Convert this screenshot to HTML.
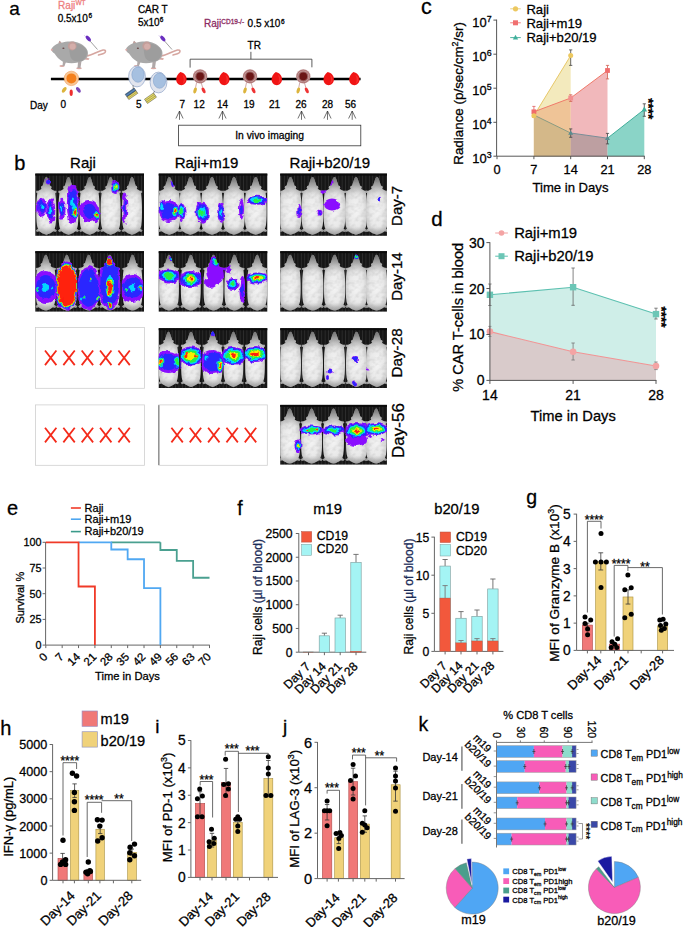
<!DOCTYPE html>
<html><head><meta charset="utf-8"><style>
html,body{margin:0;padding:0;background:#fff;}
svg{display:block;font-family:"Liberation Sans", sans-serif;}
text{fill:currentColor;stroke:currentColor;stroke-width:0.28px;}
</style></head><body>
<svg width="685" height="927" viewBox="0 0 685 927">
<defs><filter id="bl" x="-50%" y="-50%" width="200%" height="200%"><feGaussianBlur stdDeviation="0.6"/></filter><filter id="irr" x="-10%" y="-10%" width="120%" height="120%"><feTurbulence type="fractalNoise" baseFrequency="0.18" numOctaves="2" seed="7" result="n"/><feDisplacementMap in="SourceGraphic" in2="n" scale="5" xChannelSelector="R" yChannelSelector="G"/><feGaussianBlur stdDeviation="0.55"/></filter><filter id="mb" x="-20%" y="-5%" width="140%" height="110%"><feGaussianBlur in="SourceGraphic" stdDeviation="0.7" result="b"/><feTurbulence type="fractalNoise" baseFrequency="0.22" numOctaves="2" seed="11" result="n"/><feColorMatrix in="n" type="matrix" values="0 0 0 0 0.35  0 0 0 0 0.35  0 0 0 0 0.35  0.7 0 0 0 -0.3" result="ng"/><feComposite in="ng" in2="b" operator="in" result="nm"/><feMerge><feMergeNode in="b"/><feMergeNode in="nm"/></feMerge></filter><radialGradient id="mg" cx="0.5" cy="0.58" r="0.62"><stop offset="0" stop-color="#f4f4f4"/><stop offset="0.5" stop-color="#e8e8e8"/><stop offset="0.78" stop-color="#cfcfcf"/><stop offset="0.92" stop-color="#a8a8a8"/><stop offset="1" stop-color="#8a8a8a"/></radialGradient><pattern id="stripes" width="3.4" height="10" patternUnits="userSpaceOnUse"><rect width="3.4" height="10" fill="#161616"/><rect x="1.7" width="0.8" height="10" fill="#2e2e2e"/></pattern><linearGradient id="mv" x1="0" x2="0" y1="0" y2="1"><stop offset="0" stop-color="#555" stop-opacity="0.75"/><stop offset="0.2" stop-color="#666" stop-opacity="0.25"/><stop offset="0.32" stop-color="#666" stop-opacity="0"/><stop offset="0.85" stop-color="#666" stop-opacity="0"/><stop offset="1" stop-color="#555" stop-opacity="0.45"/></linearGradient><g id="mtop" filter="url(#mb)"><path d="M0,0 C0.8,0 1.4,1.2 1.9,3 C2.5,5 3.1,7 3.6,8.6 L4.8,9 L5.2,10.6 L4.6,11.4 C5.2,12.4 6.5,13.2 7.8,13.6 L9.8,13.8 L10.2,15.2 L8.9,16.2 C9.4,19.5 9.7,24 9.8,30 C9.9,38 9.8,44 9.2,48.5 C9,50 8.6,51 8.2,52 L10.4,53.6 L9.2,55.2 L7,54.4 C5,56 3,57 1.5,57.5 L0,58 L-1.5,57.5 C-3,57 -5,56 -7,54.4 L-9.2,55.2 L-10.4,53.6 L-8.2,52 C-8.6,51 -9,50 -9.2,48.5 C-9.8,44 -9.9,38 -9.8,30 C-9.7,24 -9.4,19.5 -8.9,16.2 L-10.2,15.2 L-9.8,13.8 L-7.8,13.6 C-6.5,13.2 -5.2,12.4 -4.6,11.4 L-5.2,10.6 L-4.8,9 L-3.6,8.6 C-3.1,7 -2.5,5 -1.9,3 C-1.4,1.2 -0.8,0 0,0 Z" fill="url(#mg)"/><path d="M0,0 C0.8,0 1.4,1.2 1.9,3 C2.5,5 3.1,7 3.6,8.6 L4.8,9 L5.2,10.6 L4.6,11.4 C5.2,12.4 6.5,13.2 7.8,13.6 L9.8,13.8 L10.2,15.2 L8.9,16.2 C9.4,19.5 9.7,24 9.8,30 C9.9,38 9.8,44 9.2,48.5 C9,50 8.6,51 8.2,52 L10.4,53.6 L9.2,55.2 L7,54.4 C5,56 3,57 1.5,57.5 L0,58 L-1.5,57.5 C-3,57 -5,56 -7,54.4 L-9.2,55.2 L-10.4,53.6 L-8.2,52 C-8.6,51 -9,50 -9.2,48.5 C-9.8,44 -9.9,38 -9.8,30 C-9.7,24 -9.4,19.5 -8.9,16.2 L-10.2,15.2 L-9.8,13.8 L-7.8,13.6 C-6.5,13.2 -5.2,12.4 -4.6,11.4 L-5.2,10.6 L-4.8,9 L-3.6,8.6 C-3.1,7 -2.5,5 -1.9,3 C-1.4,1.2 -0.8,0 0,0 Z" fill="url(#mv)"/></g><path id="mpath" d="M0,0 C0.8,0 1.4,1.2 1.9,3 C2.5,5 3.1,7 3.6,8.6 L4.8,9 L5.2,10.6 L4.6,11.4 C5.2,12.4 6.5,13.2 7.8,13.6 L9.8,13.8 L10.2,15.2 L8.9,16.2 C9.4,19.5 9.7,24 9.8,30 C9.9,38 9.8,44 9.2,48.5 C9,50 8.6,51 8.2,52 L10.4,53.6 L9.2,55.2 L7,54.4 C5,56 3,57 1.5,57.5 L0,58 L-1.5,57.5 C-3,57 -5,56 -7,54.4 L-9.2,55.2 L-10.4,53.6 L-8.2,52 C-8.6,51 -9,50 -9.2,48.5 C-9.8,44 -9.9,38 -9.8,30 C-9.7,24 -9.4,19.5 -8.9,16.2 L-10.2,15.2 L-9.8,13.8 L-7.8,13.6 C-6.5,13.2 -5.2,12.4 -4.6,11.4 L-5.2,10.6 L-4.8,9 L-3.6,8.6 C-3.1,7 -2.5,5 -1.9,3 C-1.4,1.2 -0.8,0 0,0 Z"/><clipPath id="mc1"><use href="#mpath" transform="translate(46.30,176.60) scale(1.096,1.015)"/><use href="#mpath" transform="translate(68.50,176.60) scale(1.096,1.015)"/><use href="#mpath" transform="translate(89.60,176.60) scale(1.096,1.015)"/><use href="#mpath" transform="translate(110.60,176.60) scale(1.096,1.015)"/><use href="#mpath" transform="translate(132.00,176.60) scale(1.096,1.015)"/></clipPath><clipPath id="mc2"><use href="#mpath" transform="translate(169.30,176.60) scale(1.203,1.015)"/><use href="#mpath" transform="translate(190.30,176.60) scale(1.203,1.015)"/><use href="#mpath" transform="translate(212.00,176.60) scale(1.203,1.015)"/><use href="#mpath" transform="translate(234.00,176.60) scale(1.203,1.015)"/><use href="#mpath" transform="translate(255.70,176.60) scale(1.203,1.015)"/></clipPath><clipPath id="mc3"><use href="#mpath" transform="translate(290.50,176.60) scale(1.203,1.015)"/><use href="#mpath" transform="translate(312.50,176.60) scale(1.203,1.015)"/><use href="#mpath" transform="translate(334.50,176.60) scale(1.203,1.015)"/><use href="#mpath" transform="translate(356.00,176.60) scale(1.203,1.015)"/><use href="#mpath" transform="translate(377.00,176.60) scale(1.203,1.015)"/></clipPath><clipPath id="mc4"><use href="#mpath" transform="translate(45.80,254.20) scale(1.093,0.983)"/><use href="#mpath" transform="translate(66.80,254.20) scale(1.093,0.983)"/><use href="#mpath" transform="translate(88.70,254.20) scale(1.093,0.983)"/><use href="#mpath" transform="translate(109.70,254.20) scale(1.093,0.983)"/><use href="#mpath" transform="translate(132.50,254.20) scale(1.093,0.983)"/></clipPath><clipPath id="mc5"><use href="#mpath" transform="translate(169.00,254.20) scale(1.093,0.983)"/><use href="#mpath" transform="translate(190.80,254.20) scale(1.093,0.983)"/><use href="#mpath" transform="translate(213.50,254.20) scale(1.093,0.983)"/><use href="#mpath" transform="translate(234.40,254.20) scale(1.093,0.983)"/><use href="#mpath" transform="translate(257.20,254.20) scale(1.093,0.983)"/></clipPath><clipPath id="mc6"><use href="#mpath" transform="translate(290.10,254.20) scale(1.166,0.983)"/><use href="#mpath" transform="translate(312.80,254.20) scale(1.166,0.983)"/><use href="#mpath" transform="translate(334.60,254.20) scale(1.166,0.983)"/><use href="#mpath" transform="translate(356.40,254.20) scale(1.166,0.983)"/><use href="#mpath" transform="translate(376.60,254.20) scale(1.166,0.983)"/></clipPath><clipPath id="mc7"><use href="#mpath" transform="translate(168.50,331.20) scale(1.081,0.973)"/><use href="#mpath" transform="translate(191.00,331.20) scale(1.081,0.973)"/><use href="#mpath" transform="translate(212.60,331.20) scale(1.081,0.973)"/><use href="#mpath" transform="translate(233.40,331.20) scale(1.081,0.973)"/><use href="#mpath" transform="translate(255.00,331.20) scale(1.081,0.973)"/></clipPath><clipPath id="mc8"><use href="#mpath" transform="translate(290.50,331.20) scale(1.153,0.973)"/><use href="#mpath" transform="translate(312.50,331.20) scale(1.153,0.973)"/><use href="#mpath" transform="translate(334.50,331.20) scale(1.153,0.973)"/><use href="#mpath" transform="translate(356.50,331.20) scale(1.153,0.973)"/><use href="#mpath" transform="translate(377.00,331.20) scale(1.153,0.973)"/></clipPath><clipPath id="mc9"><use href="#mpath" transform="translate(289.70,407.90) scale(1.151,0.971)"/><use href="#mpath" transform="translate(311.60,407.90) scale(1.151,0.971)"/><use href="#mpath" transform="translate(333.50,407.90) scale(1.151,0.971)"/><use href="#mpath" transform="translate(356.50,407.90) scale(1.151,0.971)"/><use href="#mpath" transform="translate(376.20,407.90) scale(1.151,0.971)"/></clipPath></defs>
<text x="9.20" y="14.60" font-size="19">a</text>
<text x="58.10" y="8.80" font-size="10" color="#ee7f7f">Raji</text>
<text x="75.40" y="5.40" font-size="6.5" color="#ee7f7f">WT</text>
<text x="57.70" y="21.50" font-size="10">0.5x10</text>
<text x="88.40" y="17.60" font-size="6.5">6</text>
<text x="137.90" y="13.10" font-size="10">CAR T</text>
<text x="137.90" y="25.80" font-size="10">5x10</text>
<text x="159.80" y="21.80" font-size="6.5">6</text>
<text x="204.00" y="27.20" font-size="10" color="#8c2a62">Raji</text>
<text x="221.30" y="24.20" font-size="6.5" color="#8c2a62">CD19-/-</text>
<text x="247.60" y="27.20" font-size="10">0.5 x10</text>
<text x="280.90" y="23.50" font-size="6.5">6</text>
<text x="247.60" y="49.10" font-size="10">TR</text>
<path d="M190.1,67.6 V59.2 H311.9 V67.3" fill="none" stroke="#333" stroke-width="0.8"/>
<line x1="250.90" y1="59.20" x2="250.90" y2="51.80" stroke="#333" stroke-width="0.8"/>
<g transform="translate(0.00,0.00)"><path d="M86.5,56 C92,55.5 98,51 103,50 C106.5,49.5 106,52.5 103.5,53.5 C101.5,54.3 100,54.5 98.5,55" fill="none" stroke="#d6a6a0" stroke-width="1.6" stroke-linecap="round"/><ellipse cx="62" cy="66" rx="2.6" ry="1.1" fill="#d9aaa5"/><ellipse cx="79" cy="68.3" rx="2.8" ry="1.0" fill="#d9aaa5"/><path d="M63,61 L62.5,66 L64.5,66 L66,62 Z M78,62 L77.5,68 L80.5,68 L81.5,61 Z" fill="#b0a8a8"/><path d="M85,57 L89.5,58.5 L88.5,60 L84.5,59.5 Z" fill="#d9aaa5"/><path d="M51.2,49.6 C52,47 55,44.5 58.5,43.2 L59.5,40.8 L61.5,42.8 C64,42 67,41.6 70,41.6 C76,41 82,43.5 85.5,47.5 C88.5,50.5 88.8,55 86.5,58 C85,60 83,61 81.5,61.5 L78,62.5 C74,63.5 69,63.5 65.5,62.5 L62.5,61.5 C59,59.5 56.5,56.5 54.5,53.5 C53,52.5 51.5,51.5 51.2,49.6 Z" fill="#a9a9a9"/><path d="M70,44 C77,42.5 84,45.5 86.5,50 C88,54 86,58.5 81.5,61 C77,62.5 72,61 70.5,57 C69.5,53 68.5,48 70,44 Z" fill="#9d9d9d"/><path d="M59.5,40.8 L61.5,42.8 L58.5,43.2 Z" fill="#c4a09c"/><circle cx="72.2" cy="46" r="4.4" fill="#c29e9a"/><circle cx="72.6" cy="46.4" r="3.0" fill="#d4aeaa"/><ellipse cx="63.4" cy="48.3" rx="1.1" ry="0.75" fill="#6a4848"/><circle cx="51.8" cy="49.8" r="1.0" fill="#e2aaa8"/><line x1="86.5" y1="37" x2="97.5" y2="49.5" stroke="#777" stroke-width="0.7"/><ellipse cx="88.3" cy="38.5" rx="3.4" ry="1.7" transform="rotate(48 88.3 38.5)" fill="#6a2ec0"/><line x1="84.5" y1="35.5" x2="86" y2="37" stroke="#c8b0e8" stroke-width="1"/></g>
<g transform="translate(74.50,0.00)"><path d="M86.5,56 C92,55.5 98,51 103,50 C106.5,49.5 106,52.5 103.5,53.5 C101.5,54.3 100,54.5 98.5,55" fill="none" stroke="#d6a6a0" stroke-width="1.6" stroke-linecap="round"/><ellipse cx="62" cy="66" rx="2.6" ry="1.1" fill="#d9aaa5"/><ellipse cx="79" cy="68.3" rx="2.8" ry="1.0" fill="#d9aaa5"/><path d="M63,61 L62.5,66 L64.5,66 L66,62 Z M78,62 L77.5,68 L80.5,68 L81.5,61 Z" fill="#b0a8a8"/><path d="M85,57 L89.5,58.5 L88.5,60 L84.5,59.5 Z" fill="#d9aaa5"/><path d="M51.2,49.6 C52,47 55,44.5 58.5,43.2 L59.5,40.8 L61.5,42.8 C64,42 67,41.6 70,41.6 C76,41 82,43.5 85.5,47.5 C88.5,50.5 88.8,55 86.5,58 C85,60 83,61 81.5,61.5 L78,62.5 C74,63.5 69,63.5 65.5,62.5 L62.5,61.5 C59,59.5 56.5,56.5 54.5,53.5 C53,52.5 51.5,51.5 51.2,49.6 Z" fill="#a9a9a9"/><path d="M70,44 C77,42.5 84,45.5 86.5,50 C88,54 86,58.5 81.5,61 C77,62.5 72,61 70.5,57 C69.5,53 68.5,48 70,44 Z" fill="#9d9d9d"/><path d="M59.5,40.8 L61.5,42.8 L58.5,43.2 Z" fill="#c4a09c"/><circle cx="72.2" cy="46" r="4.4" fill="#c29e9a"/><circle cx="72.6" cy="46.4" r="3.0" fill="#d4aeaa"/><ellipse cx="63.4" cy="48.3" rx="1.1" ry="0.75" fill="#6a4848"/><circle cx="51.8" cy="49.8" r="1.0" fill="#e2aaa8"/><line x1="86.5" y1="37" x2="97.5" y2="49.5" stroke="#777" stroke-width="0.7"/><ellipse cx="88.3" cy="38.5" rx="3.4" ry="1.7" transform="rotate(48 88.3 38.5)" fill="#6a2ec0"/><line x1="84.5" y1="35.5" x2="86" y2="37" stroke="#c8b0e8" stroke-width="1"/></g>
<line x1="50.90" y1="79.00" x2="360.60" y2="79.00" stroke="#000" stroke-width="2.6"/>
<circle cx="71.4" cy="78.4" r="7.2" fill="#f8c898" stroke="#f0a060" stroke-width="0.6"/>
<circle cx="71.4" cy="78.4" r="5" fill="#f4801c"/>
<ellipse cx="64.2" cy="89.8" rx="1.7" ry="3.2" transform="rotate(35 64.2 89.8)" fill="#dcb43c"/>
<ellipse cx="71.2" cy="92.8" rx="1.6" ry="3.3" fill="#ee2e2e"/>
<ellipse cx="78.4" cy="89.8" rx="1.7" ry="3.2" transform="rotate(-35 78.4 89.8)" fill="#7a48b8"/>
<ellipse cx="137.00" cy="76.50" rx="8.4" ry="10.4" fill="#e2e5ee" stroke="#8ea4c8" stroke-width="0.7"/>
<ellipse cx="138.00" cy="74.70" rx="6.2" ry="7.6" fill="#a6c0e0" stroke="#7d9cc8" stroke-width="0.5"/>
<line x1="133.00" y1="85.00" x2="133.50" y2="91.30" stroke="#555" stroke-width="0.6"/>
<g transform="translate(131.50,93.80) rotate(-35)"><rect x="-5.5" y="-3.2" width="11" height="3.2" fill="#3d6d9e" stroke="#333" stroke-width="0.4"/><rect x="-5.5" y="0" width="11" height="3.2" fill="#e8d860" stroke="#333" stroke-width="0.4"/><line x1="-5.5" y1="-1.6" x2="5.5" y2="-1.6" stroke="#9ac" stroke-width="0.4"/><line x1="-5.5" y1="1.6" x2="5.5" y2="1.6" stroke="#665" stroke-width="0.4"/></g>
<ellipse cx="158.50" cy="82.50" rx="8.4" ry="10.4" fill="#e2e5ee" stroke="#8ea4c8" stroke-width="0.7"/>
<ellipse cx="159.50" cy="80.70" rx="6.2" ry="7.6" fill="#a6c0e0" stroke="#7d9cc8" stroke-width="0.5"/>
<line x1="154.50" y1="91.00" x2="152.50" y2="95.70" stroke="#555" stroke-width="0.6"/>
<g transform="translate(150.50,98.20) rotate(-35)"><rect x="-5.5" y="-2.6" width="11" height="5.2" fill="#e8dc60" stroke="#333" stroke-width="0.4"/><line x1="-5.5" y1="-0.9" x2="5.5" y2="-0.9" stroke="#555" stroke-width="0.4"/><line x1="-5.5" y1="0.9" x2="5.5" y2="0.9" stroke="#555" stroke-width="0.4"/></g>
<path transform="translate(181.40,78.80) scale(1.0)" d="M-1,-6.8 C3,-6 5.2,-3 5.2,0.5 C5.2,4.2 2.5,6.4 0,6.4 C-3,6.4 -5.2,4.2 -5.2,0.8 C-5.2,-2.5 -3.5,-5.2 -1,-6.8 Z" fill="#f01414"/>
<path transform="translate(181.40,78.80) scale(1.0)" d="M1,-4 C3,-3 4,-1 4,1 C4,3 2.5,4.5 1,5 C2.5,3 3,0 1,-4 Z" fill="#ff4040" opacity="0.6"/>
<path transform="translate(224.30,78.80) scale(1.0)" d="M-1,-6.8 C3,-6 5.2,-3 5.2,0.5 C5.2,4.2 2.5,6.4 0,6.4 C-3,6.4 -5.2,4.2 -5.2,0.8 C-5.2,-2.5 -3.5,-5.2 -1,-6.8 Z" fill="#f01414"/>
<path transform="translate(224.30,78.80) scale(1.0)" d="M1,-4 C3,-3 4,-1 4,1 C4,3 2.5,4.5 1,5 C2.5,3 3,0 1,-4 Z" fill="#ff4040" opacity="0.6"/>
<path transform="translate(276.80,78.80) scale(1.0)" d="M-1,-6.8 C3,-6 5.2,-3 5.2,0.5 C5.2,4.2 2.5,6.4 0,6.4 C-3,6.4 -5.2,4.2 -5.2,0.8 C-5.2,-2.5 -3.5,-5.2 -1,-6.8 Z" fill="#f01414"/>
<path transform="translate(276.80,78.80) scale(1.0)" d="M1,-4 C3,-3 4,-1 4,1 C4,3 2.5,4.5 1,5 C2.5,3 3,0 1,-4 Z" fill="#ff4040" opacity="0.6"/>
<path transform="translate(328.70,78.80) scale(1.0)" d="M-1,-6.8 C3,-6 5.2,-3 5.2,0.5 C5.2,4.2 2.5,6.4 0,6.4 C-3,6.4 -5.2,4.2 -5.2,0.8 C-5.2,-2.5 -3.5,-5.2 -1,-6.8 Z" fill="#f01414"/>
<path transform="translate(328.70,78.80) scale(1.0)" d="M1,-4 C3,-3 4,-1 4,1 C4,3 2.5,4.5 1,5 C2.5,3 3,0 1,-4 Z" fill="#ff4040" opacity="0.6"/>
<path transform="translate(354.40,78.80) scale(1.0)" d="M-1,-6.8 C3,-6 5.2,-3 5.2,0.5 C5.2,4.2 2.5,6.4 0,6.4 C-3,6.4 -5.2,4.2 -5.2,0.8 C-5.2,-2.5 -3.5,-5.2 -1,-6.8 Z" fill="#f01414"/>
<path transform="translate(354.40,78.80) scale(1.0)" d="M1,-4 C3,-3 4,-1 4,1 C4,3 2.5,4.5 1,5 C2.5,3 3,0 1,-4 Z" fill="#ff4040" opacity="0.6"/>
<circle cx="200.10" cy="76.40" r="7.2" fill="#c8a0a0"/>
<circle cx="200.10" cy="76.40" r="6.3" fill="none" stroke="#9c5a5a" stroke-width="0.6"/>
<circle cx="200.10" cy="76.40" r="5" fill="#9a6060"/>
<circle cx="200.10" cy="76.40" r="3.8" fill="#6a1616"/>
<ellipse cx="195.10" cy="90.40" rx="1.6" ry="3.1" transform="rotate(15 195.10 90.40)" fill="#dcb43c"/>
<ellipse cx="203.60" cy="90.40" rx="1.6" ry="3.1" transform="rotate(-25 203.60 90.40)" fill="#ef3434"/>
<line x1="196.60" y1="82.40" x2="195.60" y2="87.40" stroke="#b07070" stroke-width="0.6"/>
<line x1="201.10" y1="82.40" x2="202.60" y2="87.40" stroke="#b07070" stroke-width="0.6"/>
<circle cx="250.00" cy="76.40" r="7.2" fill="#c8a0a0"/>
<circle cx="250.00" cy="76.40" r="6.3" fill="none" stroke="#9c5a5a" stroke-width="0.6"/>
<circle cx="250.00" cy="76.40" r="5" fill="#9a6060"/>
<circle cx="250.00" cy="76.40" r="3.8" fill="#6a1616"/>
<ellipse cx="245.00" cy="90.40" rx="1.6" ry="3.1" transform="rotate(15 245.00 90.40)" fill="#dcb43c"/>
<ellipse cx="253.50" cy="90.40" rx="1.6" ry="3.1" transform="rotate(-25 253.50 90.40)" fill="#ef3434"/>
<line x1="246.50" y1="82.40" x2="245.50" y2="87.40" stroke="#b07070" stroke-width="0.6"/>
<line x1="251.00" y1="82.40" x2="252.50" y2="87.40" stroke="#b07070" stroke-width="0.6"/>
<circle cx="303.30" cy="76.40" r="7.2" fill="#c8a0a0"/>
<circle cx="303.30" cy="76.40" r="6.3" fill="none" stroke="#9c5a5a" stroke-width="0.6"/>
<circle cx="303.30" cy="76.40" r="5" fill="#9a6060"/>
<circle cx="303.30" cy="76.40" r="3.8" fill="#6a1616"/>
<ellipse cx="298.30" cy="90.40" rx="1.6" ry="3.1" transform="rotate(15 298.30 90.40)" fill="#dcb43c"/>
<ellipse cx="306.80" cy="90.40" rx="1.6" ry="3.1" transform="rotate(-25 306.80 90.40)" fill="#ef3434"/>
<line x1="299.80" y1="82.40" x2="298.80" y2="87.40" stroke="#b07070" stroke-width="0.6"/>
<line x1="304.30" y1="82.40" x2="305.80" y2="87.40" stroke="#b07070" stroke-width="0.6"/>
<text x="30.00" y="108.60" font-size="10">Day</text>
<text x="60.40" y="107.60" font-size="10">0</text>
<text x="136.00" y="107.60" font-size="10">5</text>
<text x="179.40" y="107.60" font-size="10">7</text>
<text x="193.60" y="107.60" font-size="10">12</text>
<text x="217.00" y="107.60" font-size="10">14</text>
<text x="243.50" y="107.60" font-size="10">19</text>
<text x="269.00" y="107.60" font-size="10">21</text>
<text x="295.40" y="107.60" font-size="10">26</text>
<text x="322.00" y="107.60" font-size="10">28</text>
<text x="345.00" y="107.60" font-size="10">56</text>
<path d="M175.90,118.5 L179.50,111 L183.10,118.5 M179.50,111 V119.8" fill="none" stroke="#333" stroke-width="0.7"/>
<path d="M218.90,118.5 L222.50,111 L226.10,118.5 M222.50,111 V119.8" fill="none" stroke="#333" stroke-width="0.7"/>
<path d="M297.90,118.5 L301.50,111 L305.10,118.5 M301.50,111 V119.8" fill="none" stroke="#333" stroke-width="0.7"/>
<path d="M323.90,118.5 L327.50,111 L331.10,118.5 M327.50,111 V119.8" fill="none" stroke="#333" stroke-width="0.7"/>
<path d="M348.60,118.5 L352.20,111 L355.80,118.5 M352.20,111 V119.8" fill="none" stroke="#333" stroke-width="0.7"/>
<rect x="178.60" y="125.20" width="182.20" height="20.60" fill="none" stroke="#333" stroke-width="0.8"/>
<text x="269.60" y="139.20" font-size="10.3" text-anchor="middle">In vivo imaging</text>
<text x="14.30" y="170.20" font-size="20">b</text>
<text x="70.10" y="168.30" font-size="15">Raji</text>
<text x="174.70" y="168.30" font-size="15">Raji+m19</text>
<text x="289.60" y="168.30" font-size="15">Raji+b20/19</text>
<text x="402.40" y="205.90" font-size="15.0" text-anchor="middle" transform="rotate(-90 402.40 205.90)">Day-7</text>
<text x="402.40" y="276.60" font-size="15.0" text-anchor="middle" transform="rotate(-90 402.40 276.60)">Day-14</text>
<text x="402.50" y="352.90" font-size="15.2" text-anchor="middle" transform="rotate(-90 402.50 352.90)">Day-28</text>
<text x="404.20" y="430.50" font-size="17.0" text-anchor="middle" transform="rotate(-90 404.20 430.50)">Day-56</text>
<rect x="35.30" y="173.60" width="108.70" height="62.20" fill="url(#stripes)"/>
<rect x="35.30" y="173.60" width="108.70" height="2" fill="#0a0a0a"/>
<svg x="35.30" y="173.60" width="108.70" height="62.20" viewBox="35.30 173.60 108.70 62.20" overflow="hidden">
<use href="#mtop" transform="translate(46.30,177.10) scale(1.015,0.995)"/>
<use href="#mtop" transform="translate(68.50,177.10) scale(1.015,0.995)"/>
<use href="#mtop" transform="translate(89.60,177.10) scale(1.015,0.995)"/>
<use href="#mtop" transform="translate(110.60,177.10) scale(1.015,0.995)"/>
<use href="#mtop" transform="translate(132.00,177.10) scale(1.015,0.995)"/>
<g filter="url(#irr)">
<ellipse cx="41.80" cy="207.20" rx="5.00" ry="9.50" fill="#8a10ff"/>
<ellipse cx="50.80" cy="210.40" rx="4.50" ry="12.00" fill="#8a10ff"/>
<ellipse cx="48.30" cy="181.40" rx="2.50" ry="3.00" fill="#8a10ff"/>
<ellipse cx="61.80" cy="208.80" rx="3.80" ry="10.00" fill="#8a10ff"/>
<ellipse cx="72.80" cy="204.00" rx="6.00" ry="20.00" fill="#8a10ff"/>
<ellipse cx="75.00" cy="212.00" rx="3.50" ry="8.00" fill="#8a10ff"/>
<ellipse cx="89.50" cy="211.00" rx="9.80" ry="11.00" fill="#8a10ff"/>
<ellipse cx="96.40" cy="215.40" rx="3.50" ry="7.00" fill="#8a10ff"/>
<ellipse cx="115.40" cy="187.00" rx="4.20" ry="7.00" fill="#8a10ff"/>
<ellipse cx="124.80" cy="208.00" rx="2.50" ry="16.00" fill="#8a10ff"/>
<ellipse cx="41.80" cy="207.20" rx="3.50" ry="6.65" fill="#2a28ff"/>
<ellipse cx="50.80" cy="210.40" rx="3.15" ry="8.40" fill="#2a28ff"/>
<ellipse cx="48.30" cy="181.40" rx="2.00" ry="2.40" fill="#2a28ff"/>
<ellipse cx="61.80" cy="208.80" rx="2.66" ry="7.00" fill="#2a28ff"/>
<ellipse cx="72.80" cy="204.00" rx="4.50" ry="15.00" fill="#2a28ff"/>
<ellipse cx="75.00" cy="212.00" rx="2.98" ry="6.80" fill="#2a28ff"/>
<ellipse cx="89.50" cy="211.00" rx="6.37" ry="7.15" fill="#2a28ff"/>
<ellipse cx="96.40" cy="215.40" rx="2.80" ry="5.60" fill="#2a28ff"/>
<ellipse cx="115.40" cy="187.00" rx="3.36" ry="5.60" fill="#2a28ff"/>
<ellipse cx="124.80" cy="208.00" rx="1.25" ry="8.00" fill="#2a28ff"/>
<ellipse cx="41.80" cy="207.20" rx="1.50" ry="2.85" fill="#00d8ff"/>
<ellipse cx="50.80" cy="210.40" rx="1.57" ry="4.20" fill="#00d8ff"/>
<ellipse cx="61.80" cy="208.80" rx="1.14" ry="3.00" fill="#00d8ff"/>
<ellipse cx="72.80" cy="204.00" rx="1.68" ry="5.60" fill="#00d8ff"/>
<ellipse cx="75.00" cy="212.00" rx="2.45" ry="5.60" fill="#00d8ff"/>
<ellipse cx="96.40" cy="215.40" rx="2.10" ry="4.20" fill="#00d8ff"/>
<ellipse cx="115.40" cy="187.00" rx="2.31" ry="3.85" fill="#00d8ff"/>
<ellipse cx="75.00" cy="212.00" rx="1.93" ry="4.40" fill="#28f040"/>
<ellipse cx="96.40" cy="215.40" rx="1.57" ry="3.15" fill="#28f040"/>
<ellipse cx="115.40" cy="187.00" rx="1.68" ry="2.80" fill="#28f040"/>
<ellipse cx="75.00" cy="212.00" rx="1.40" ry="3.20" fill="#f8f000"/>
<ellipse cx="96.40" cy="215.40" rx="1.05" ry="2.10" fill="#f8f000"/>
<ellipse cx="115.40" cy="187.00" rx="1.05" ry="1.75" fill="#f8f000"/>
<ellipse cx="75.00" cy="212.00" rx="1.05" ry="2.40" fill="#ff2010"/>
<ellipse cx="96.40" cy="215.40" rx="0.70" ry="1.40" fill="#ff2010"/>
</g>
</svg>
<rect x="158.70" y="173.60" width="108.60" height="62.20" fill="url(#stripes)"/>
<rect x="158.70" y="173.60" width="108.60" height="2" fill="#0a0a0a"/>
<svg x="158.70" y="173.60" width="108.60" height="62.20" viewBox="158.70 173.60 108.60 62.20" overflow="hidden">
<use href="#mtop" transform="translate(169.30,177.10) scale(1.114,0.995)"/>
<use href="#mtop" transform="translate(190.30,177.10) scale(1.114,0.995)"/>
<use href="#mtop" transform="translate(212.00,177.10) scale(1.114,0.995)"/>
<use href="#mtop" transform="translate(234.00,177.10) scale(1.114,0.995)"/>
<use href="#mtop" transform="translate(255.70,177.10) scale(1.114,0.995)"/>
<g clip-path="url(#mc2)">
<g filter="url(#irr)">
<ellipse cx="168.50" cy="211.00" rx="9.50" ry="11.00" fill="#8a10ff"/>
<ellipse cx="161.70" cy="207.00" rx="3.00" ry="6.00" fill="#8a10ff"/>
<ellipse cx="175.50" cy="211.00" rx="3.50" ry="7.50" fill="#8a10ff"/>
<ellipse cx="173.50" cy="183.00" rx="2.50" ry="4.00" fill="#8a10ff"/>
<ellipse cx="181.50" cy="212.00" rx="4.00" ry="9.00" fill="#8a10ff"/>
<ellipse cx="200.00" cy="212.00" rx="4.50" ry="10.00" fill="#8a10ff"/>
<ellipse cx="203.00" cy="212.80" rx="6.00" ry="11.00" fill="#8a10ff"/>
<ellipse cx="221.30" cy="212.80" rx="3.00" ry="10.00" fill="#8a10ff"/>
<ellipse cx="241.50" cy="209.50" rx="2.50" ry="10.00" fill="#8a10ff"/>
<ellipse cx="257.40" cy="200.20" rx="11.00" ry="4.50" fill="#8a10ff"/>
<ellipse cx="168.50" cy="211.00" rx="7.12" ry="8.25" fill="#2a28ff"/>
<ellipse cx="161.70" cy="207.00" rx="2.40" ry="4.80" fill="#2a28ff"/>
<ellipse cx="175.50" cy="211.00" rx="2.98" ry="6.38" fill="#2a28ff"/>
<ellipse cx="173.50" cy="183.00" rx="2.00" ry="3.20" fill="#2a28ff"/>
<ellipse cx="181.50" cy="212.00" rx="3.20" ry="7.20" fill="#2a28ff"/>
<ellipse cx="200.00" cy="212.00" rx="3.60" ry="8.00" fill="#2a28ff"/>
<ellipse cx="203.00" cy="212.80" rx="4.80" ry="8.80" fill="#2a28ff"/>
<ellipse cx="221.30" cy="212.80" rx="2.25" ry="7.50" fill="#2a28ff"/>
<ellipse cx="241.50" cy="209.50" rx="1.25" ry="5.00" fill="#2a28ff"/>
<ellipse cx="257.40" cy="200.20" rx="9.35" ry="3.82" fill="#2a28ff"/>
<ellipse cx="161.70" cy="207.00" rx="1.50" ry="3.00" fill="#00d8ff"/>
<ellipse cx="175.50" cy="211.00" rx="2.45" ry="5.25" fill="#00d8ff"/>
<ellipse cx="181.50" cy="212.00" rx="2.20" ry="4.95" fill="#00d8ff"/>
<ellipse cx="200.00" cy="212.00" rx="2.48" ry="5.50" fill="#00d8ff"/>
<ellipse cx="203.00" cy="212.80" rx="3.00" ry="5.50" fill="#00d8ff"/>
<ellipse cx="221.30" cy="212.80" rx="1.05" ry="3.50" fill="#00d8ff"/>
<ellipse cx="257.40" cy="200.20" rx="6.60" ry="2.70" fill="#00d8ff"/>
<ellipse cx="175.50" cy="211.00" rx="1.93" ry="4.12" fill="#28f040"/>
<ellipse cx="181.50" cy="212.00" rx="1.40" ry="3.15" fill="#28f040"/>
<ellipse cx="200.00" cy="212.00" rx="1.57" ry="3.50" fill="#28f040"/>
<ellipse cx="203.00" cy="212.80" rx="1.80" ry="3.30" fill="#28f040"/>
<ellipse cx="257.40" cy="200.20" rx="4.40" ry="1.80" fill="#28f040"/>
<ellipse cx="175.50" cy="211.00" rx="1.40" ry="3.00" fill="#f8f000"/>
<ellipse cx="175.50" cy="211.00" rx="0.98" ry="2.10" fill="#ff2010"/>
</g>
</g>
</svg>
<rect x="280.20" y="173.60" width="106.80" height="62.20" fill="url(#stripes)"/>
<rect x="280.20" y="173.60" width="106.80" height="2" fill="#0a0a0a"/>
<svg x="280.20" y="173.60" width="106.80" height="62.20" viewBox="280.20 173.60 106.80 62.20" overflow="hidden">
<use href="#mtop" transform="translate(290.50,177.10) scale(1.114,0.995)"/>
<use href="#mtop" transform="translate(312.50,177.10) scale(1.114,0.995)"/>
<use href="#mtop" transform="translate(334.50,177.10) scale(1.114,0.995)"/>
<use href="#mtop" transform="translate(356.00,177.10) scale(1.114,0.995)"/>
<use href="#mtop" transform="translate(377.00,177.10) scale(1.114,0.995)"/>
<g clip-path="url(#mc3)">
<g filter="url(#irr)">
<ellipse cx="283.00" cy="184.80" rx="1.50" ry="2.00" fill="#8a10ff"/>
<ellipse cx="299.30" cy="211.10" rx="2.00" ry="7.00" fill="#8a10ff"/>
<ellipse cx="319.50" cy="212.80" rx="3.00" ry="3.00" fill="#8a10ff"/>
<ellipse cx="332.10" cy="204.40" rx="8.00" ry="6.00" fill="#8a10ff"/>
<ellipse cx="330.40" cy="182.60" rx="3.00" ry="3.00" fill="#8a10ff"/>
<ellipse cx="323.70" cy="191.80" rx="2.00" ry="3.00" fill="#8a10ff"/>
<ellipse cx="342.10" cy="187.60" rx="1.20" ry="1.50" fill="#8a10ff"/>
<ellipse cx="379.10" cy="198.50" rx="1.80" ry="2.00" fill="#8a10ff"/>
<ellipse cx="299.30" cy="211.10" rx="1.00" ry="3.50" fill="#2a28ff"/>
<ellipse cx="319.50" cy="212.80" rx="1.80" ry="1.80" fill="#2a28ff"/>
<ellipse cx="379.10" cy="198.50" rx="1.44" ry="1.60" fill="#2a28ff"/>
</g>
</g>
</svg>
<rect x="35.30" y="251.20" width="108.70" height="60.40" fill="url(#stripes)"/>
<rect x="35.30" y="251.20" width="108.70" height="2" fill="#0a0a0a"/>
<svg x="35.30" y="251.20" width="108.70" height="60.40" viewBox="35.30 251.20 108.70 60.40" overflow="hidden">
<use href="#mtop" transform="translate(45.80,254.70) scale(1.012,0.964)"/>
<use href="#mtop" transform="translate(66.80,254.70) scale(1.012,0.964)"/>
<use href="#mtop" transform="translate(88.70,254.70) scale(1.012,0.964)"/>
<use href="#mtop" transform="translate(109.70,254.70) scale(1.012,0.964)"/>
<use href="#mtop" transform="translate(132.50,254.70) scale(1.012,0.964)"/>
<g clip-path="url(#mc4)">
<g filter="url(#irr)">
<ellipse cx="45.80" cy="287.00" rx="13.00" ry="16.00" fill="#8a10ff"/>
<ellipse cx="37.50" cy="290.00" rx="2.50" ry="4.00" fill="#8a10ff"/>
<ellipse cx="53.00" cy="288.00" rx="2.00" ry="3.00" fill="#8a10ff"/>
<ellipse cx="66.80" cy="286.00" rx="11.00" ry="24.50" fill="#8a10ff"/>
<ellipse cx="63.00" cy="300.00" rx="7.00" ry="8.00" fill="#8a10ff"/>
<ellipse cx="88.70" cy="288.00" rx="12.00" ry="22.00" fill="#8a10ff"/>
<ellipse cx="90.40" cy="280.00" rx="3.00" ry="3.00" fill="#8a10ff"/>
<ellipse cx="97.40" cy="297.50" rx="3.00" ry="3.50" fill="#8a10ff"/>
<ellipse cx="84.00" cy="298.00" rx="3.00" ry="3.00" fill="#8a10ff"/>
<ellipse cx="81.00" cy="298.00" rx="2.00" ry="3.00" fill="#8a10ff"/>
<ellipse cx="109.70" cy="283.00" rx="11.00" ry="27.00" fill="#8a10ff"/>
<ellipse cx="109.70" cy="262.00" rx="4.50" ry="4.50" fill="#8a10ff"/>
<ellipse cx="109.70" cy="288.00" rx="5.00" ry="12.00" fill="#8a10ff"/>
<ellipse cx="109.70" cy="305.00" rx="3.50" ry="3.50" fill="#8a10ff"/>
<ellipse cx="132.50" cy="288.00" rx="13.00" ry="14.00" fill="#8a10ff"/>
<ellipse cx="140.00" cy="288.00" rx="3.00" ry="6.00" fill="#8a10ff"/>
<ellipse cx="126.00" cy="290.00" rx="2.50" ry="4.00" fill="#8a10ff"/>
<ellipse cx="45.80" cy="287.00" rx="9.75" ry="12.00" fill="#2a28ff"/>
<ellipse cx="37.50" cy="290.00" rx="2.00" ry="3.20" fill="#2a28ff"/>
<ellipse cx="53.00" cy="288.00" rx="1.60" ry="2.40" fill="#2a28ff"/>
<ellipse cx="66.80" cy="286.00" rx="10.45" ry="23.27" fill="#2a28ff"/>
<ellipse cx="63.00" cy="300.00" rx="5.60" ry="6.40" fill="#2a28ff"/>
<ellipse cx="88.70" cy="288.00" rx="10.20" ry="18.70" fill="#2a28ff"/>
<ellipse cx="90.40" cy="280.00" rx="2.40" ry="2.40" fill="#2a28ff"/>
<ellipse cx="97.40" cy="297.50" rx="2.40" ry="2.80" fill="#2a28ff"/>
<ellipse cx="84.00" cy="298.00" rx="2.40" ry="2.40" fill="#2a28ff"/>
<ellipse cx="81.00" cy="298.00" rx="1.60" ry="2.40" fill="#2a28ff"/>
<ellipse cx="109.70" cy="283.00" rx="9.35" ry="22.95" fill="#2a28ff"/>
<ellipse cx="109.70" cy="262.00" rx="4.05" ry="4.05" fill="#2a28ff"/>
<ellipse cx="109.70" cy="288.00" rx="4.50" ry="10.80" fill="#2a28ff"/>
<ellipse cx="109.70" cy="305.00" rx="3.15" ry="3.15" fill="#2a28ff"/>
<ellipse cx="132.50" cy="288.00" rx="9.75" ry="10.50" fill="#2a28ff"/>
<ellipse cx="140.00" cy="288.00" rx="2.40" ry="4.80" fill="#2a28ff"/>
<ellipse cx="126.00" cy="290.00" rx="2.00" ry="3.20" fill="#2a28ff"/>
<ellipse cx="45.80" cy="287.00" rx="3.25" ry="4.00" fill="#00d8ff"/>
<ellipse cx="37.50" cy="290.00" rx="1.25" ry="2.00" fill="#00d8ff"/>
<ellipse cx="53.00" cy="288.00" rx="1.00" ry="1.50" fill="#00d8ff"/>
<ellipse cx="66.80" cy="286.00" rx="10.12" ry="22.54" fill="#00d8ff"/>
<ellipse cx="63.00" cy="300.00" rx="3.50" ry="4.00" fill="#00d8ff"/>
<ellipse cx="90.40" cy="280.00" rx="1.50" ry="1.50" fill="#00d8ff"/>
<ellipse cx="97.40" cy="297.50" rx="1.50" ry="1.75" fill="#00d8ff"/>
<ellipse cx="84.00" cy="298.00" rx="1.50" ry="1.50" fill="#00d8ff"/>
<ellipse cx="81.00" cy="298.00" rx="1.00" ry="1.50" fill="#00d8ff"/>
<ellipse cx="109.70" cy="283.00" rx="3.30" ry="8.10" fill="#00d8ff"/>
<ellipse cx="109.70" cy="262.00" rx="3.60" ry="3.60" fill="#00d8ff"/>
<ellipse cx="109.70" cy="288.00" rx="4.00" ry="9.60" fill="#00d8ff"/>
<ellipse cx="109.70" cy="305.00" rx="2.80" ry="2.80" fill="#00d8ff"/>
<ellipse cx="132.50" cy="288.00" rx="3.90" ry="4.20" fill="#00d8ff"/>
<ellipse cx="140.00" cy="288.00" rx="1.50" ry="3.00" fill="#00d8ff"/>
<ellipse cx="126.00" cy="290.00" rx="1.25" ry="2.00" fill="#00d8ff"/>
<ellipse cx="37.50" cy="290.00" rx="0.95" ry="1.52" fill="#28f040"/>
<ellipse cx="66.80" cy="286.00" rx="9.90" ry="22.05" fill="#28f040"/>
<ellipse cx="63.00" cy="300.00" rx="2.66" ry="3.04" fill="#28f040"/>
<ellipse cx="90.40" cy="280.00" rx="1.14" ry="1.14" fill="#28f040"/>
<ellipse cx="97.40" cy="297.50" rx="1.14" ry="1.33" fill="#28f040"/>
<ellipse cx="84.00" cy="298.00" rx="1.14" ry="1.14" fill="#28f040"/>
<ellipse cx="109.70" cy="262.00" rx="3.38" ry="3.38" fill="#28f040"/>
<ellipse cx="109.70" cy="288.00" rx="3.50" ry="8.40" fill="#28f040"/>
<ellipse cx="109.70" cy="305.00" rx="2.45" ry="2.45" fill="#28f040"/>
<ellipse cx="140.00" cy="288.00" rx="1.14" ry="2.28" fill="#28f040"/>
<ellipse cx="126.00" cy="290.00" rx="0.95" ry="1.52" fill="#28f040"/>
<ellipse cx="66.80" cy="286.00" rx="9.68" ry="21.56" fill="#f8f000"/>
<ellipse cx="63.00" cy="300.00" rx="1.89" ry="2.16" fill="#f8f000"/>
<ellipse cx="90.40" cy="280.00" rx="0.81" ry="0.81" fill="#f8f000"/>
<ellipse cx="97.40" cy="297.50" rx="0.81" ry="0.95" fill="#f8f000"/>
<ellipse cx="109.70" cy="262.00" rx="3.15" ry="3.15" fill="#f8f000"/>
<ellipse cx="109.70" cy="288.00" rx="3.00" ry="7.20" fill="#f8f000"/>
<ellipse cx="109.70" cy="305.00" rx="2.10" ry="2.10" fill="#f8f000"/>
<ellipse cx="140.00" cy="288.00" rx="0.81" ry="1.62" fill="#f8f000"/>
<ellipse cx="66.80" cy="286.00" rx="9.35" ry="20.82" fill="#ff2010"/>
<ellipse cx="63.00" cy="300.00" rx="1.26" ry="1.44" fill="#ff2010"/>
<ellipse cx="90.40" cy="280.00" rx="0.54" ry="0.54" fill="#ff2010"/>
<ellipse cx="97.40" cy="297.50" rx="0.54" ry="0.63" fill="#ff2010"/>
<ellipse cx="109.70" cy="262.00" rx="2.93" ry="2.93" fill="#ff2010"/>
<ellipse cx="109.70" cy="288.00" rx="2.50" ry="6.00" fill="#ff2010"/>
<ellipse cx="109.70" cy="305.00" rx="1.75" ry="1.75" fill="#ff2010"/>
<ellipse cx="140.00" cy="288.00" rx="0.54" ry="1.08" fill="#ff2010"/>
</g>
</g>
</svg>
<rect x="158.70" y="251.20" width="108.60" height="60.40" fill="url(#stripes)"/>
<rect x="158.70" y="251.20" width="108.60" height="2" fill="#0a0a0a"/>
<svg x="158.70" y="251.20" width="108.60" height="60.40" viewBox="158.70 251.20 108.60 60.40" overflow="hidden">
<use href="#mtop" transform="translate(169.00,254.70) scale(1.012,0.964)"/>
<use href="#mtop" transform="translate(190.80,254.70) scale(1.012,0.964)"/>
<use href="#mtop" transform="translate(213.50,254.70) scale(1.012,0.964)"/>
<use href="#mtop" transform="translate(234.40,254.70) scale(1.012,0.964)"/>
<use href="#mtop" transform="translate(257.20,254.70) scale(1.012,0.964)"/>
<g clip-path="url(#mc5)">
<g filter="url(#irr)">
<ellipse cx="169.00" cy="276.00" rx="12.00" ry="7.50" fill="#8a10ff"/>
<ellipse cx="171.80" cy="259.00" rx="3.00" ry="2.50" fill="#8a10ff"/>
<ellipse cx="190.80" cy="279.00" rx="12.00" ry="8.00" fill="#8a10ff"/>
<ellipse cx="191.00" cy="279.00" rx="3.00" ry="3.00" fill="#8a10ff"/>
<ellipse cx="216.00" cy="270.00" rx="9.00" ry="14.00" fill="#8a10ff"/>
<ellipse cx="216.40" cy="261.80" rx="5.00" ry="6.00" fill="#8a10ff"/>
<ellipse cx="218.50" cy="258.00" rx="2.00" ry="2.00" fill="#8a10ff"/>
<ellipse cx="210.00" cy="283.00" rx="6.00" ry="5.00" fill="#8a10ff"/>
<ellipse cx="232.50" cy="284.00" rx="6.00" ry="6.00" fill="#8a10ff"/>
<ellipse cx="242.50" cy="290.00" rx="3.00" ry="14.00" fill="#8a10ff"/>
<ellipse cx="228.00" cy="268.00" rx="2.50" ry="5.00" fill="#8a10ff"/>
<ellipse cx="257.20" cy="278.00" rx="12.00" ry="5.50" fill="#8a10ff"/>
<ellipse cx="169.00" cy="276.00" rx="9.60" ry="6.00" fill="#2a28ff"/>
<ellipse cx="171.80" cy="259.00" rx="2.40" ry="2.00" fill="#2a28ff"/>
<ellipse cx="190.80" cy="279.00" rx="9.84" ry="6.56" fill="#2a28ff"/>
<ellipse cx="191.00" cy="279.00" rx="2.70" ry="2.70" fill="#2a28ff"/>
<ellipse cx="216.40" cy="261.80" rx="4.00" ry="4.80" fill="#2a28ff"/>
<ellipse cx="218.50" cy="258.00" rx="1.80" ry="1.80" fill="#2a28ff"/>
<ellipse cx="232.50" cy="284.00" rx="4.80" ry="4.80" fill="#2a28ff"/>
<ellipse cx="242.50" cy="290.00" rx="1.50" ry="7.00" fill="#2a28ff"/>
<ellipse cx="257.20" cy="278.00" rx="10.20" ry="4.67" fill="#2a28ff"/>
<ellipse cx="169.00" cy="276.00" rx="7.20" ry="4.50" fill="#00d8ff"/>
<ellipse cx="171.80" cy="259.00" rx="1.50" ry="1.25" fill="#00d8ff"/>
<ellipse cx="190.80" cy="279.00" rx="7.80" ry="5.20" fill="#00d8ff"/>
<ellipse cx="191.00" cy="279.00" rx="2.40" ry="2.40" fill="#00d8ff"/>
<ellipse cx="216.40" cy="261.80" rx="3.00" ry="3.60" fill="#00d8ff"/>
<ellipse cx="218.50" cy="258.00" rx="1.60" ry="1.60" fill="#00d8ff"/>
<ellipse cx="232.50" cy="284.00" rx="3.30" ry="3.30" fill="#00d8ff"/>
<ellipse cx="257.20" cy="278.00" rx="8.40" ry="3.85" fill="#00d8ff"/>
<ellipse cx="169.00" cy="276.00" rx="5.04" ry="3.15" fill="#28f040"/>
<ellipse cx="190.80" cy="279.00" rx="6.00" ry="4.00" fill="#28f040"/>
<ellipse cx="191.00" cy="279.00" rx="2.10" ry="2.10" fill="#28f040"/>
<ellipse cx="216.40" cy="261.80" rx="2.00" ry="2.40" fill="#28f040"/>
<ellipse cx="218.50" cy="258.00" rx="1.40" ry="1.40" fill="#28f040"/>
<ellipse cx="232.50" cy="284.00" rx="2.10" ry="2.10" fill="#28f040"/>
<ellipse cx="257.20" cy="278.00" rx="6.60" ry="3.03" fill="#28f040"/>
<ellipse cx="190.80" cy="279.00" rx="3.84" ry="2.56" fill="#f8f000"/>
<ellipse cx="191.00" cy="279.00" rx="1.80" ry="1.80" fill="#f8f000"/>
<ellipse cx="218.50" cy="258.00" rx="1.20" ry="1.20" fill="#f8f000"/>
<ellipse cx="257.20" cy="278.00" rx="4.80" ry="2.20" fill="#f8f000"/>
<ellipse cx="191.00" cy="279.00" rx="1.50" ry="1.50" fill="#ff2010"/>
<ellipse cx="218.50" cy="258.00" rx="1.00" ry="1.00" fill="#ff2010"/>
<ellipse cx="257.20" cy="278.00" rx="3.00" ry="1.38" fill="#ff2010"/>
</g>
</g>
</svg>
<rect x="280.20" y="251.20" width="106.80" height="60.40" fill="url(#stripes)"/>
<rect x="280.20" y="251.20" width="106.80" height="2" fill="#0a0a0a"/>
<svg x="280.20" y="251.20" width="106.80" height="60.40" viewBox="280.20 251.20 106.80 60.40" overflow="hidden">
<use href="#mtop" transform="translate(290.10,254.70) scale(1.079,0.964)"/>
<use href="#mtop" transform="translate(312.80,254.70) scale(1.079,0.964)"/>
<use href="#mtop" transform="translate(334.60,254.70) scale(1.079,0.964)"/>
<use href="#mtop" transform="translate(356.40,254.70) scale(1.079,0.964)"/>
<use href="#mtop" transform="translate(376.60,254.70) scale(1.079,0.964)"/>
<g clip-path="url(#mc6)">
<g filter="url(#irr)">
<ellipse cx="356.40" cy="256.00" rx="3.50" ry="2.50" fill="#8a10ff"/>
<ellipse cx="356.40" cy="256.00" rx="2.80" ry="2.00" fill="#2a28ff"/>
<ellipse cx="356.40" cy="256.00" rx="1.75" ry="1.25" fill="#00d8ff"/>
<ellipse cx="356.40" cy="256.00" rx="1.33" ry="0.95" fill="#28f040"/>
</g>
</g>
</svg>
<rect x="35.40" y="327.40" width="109.10" height="60.90" fill="#fff" stroke="#cfcfcf" stroke-width="0.8"/>
<path d="M45.00,350.55 L56.40,365.15 M56.40,350.55 L45.00,365.15" fill="none" stroke="#f42a1a" stroke-width="1.8"/>
<path d="M63.35,350.55 L74.75,365.15 M74.75,350.55 L63.35,365.15" fill="none" stroke="#f42a1a" stroke-width="1.8"/>
<path d="M81.70,350.55 L93.10,365.15 M93.10,350.55 L81.70,365.15" fill="none" stroke="#f42a1a" stroke-width="1.8"/>
<path d="M100.05,350.55 L111.45,365.15 M111.45,350.55 L100.05,365.15" fill="none" stroke="#f42a1a" stroke-width="1.8"/>
<path d="M118.40,350.55 L129.80,365.15 M129.80,350.55 L118.40,365.15" fill="none" stroke="#f42a1a" stroke-width="1.8"/>
<rect x="158.70" y="328.20" width="108.60" height="59.80" fill="url(#stripes)"/>
<rect x="158.70" y="328.20" width="108.60" height="2" fill="#0a0a0a"/>
<svg x="158.70" y="328.20" width="108.60" height="59.80" viewBox="158.70 328.20 108.60 59.80" overflow="hidden">
<use href="#mtop" transform="translate(168.50,331.70) scale(1.001,0.953)"/>
<use href="#mtop" transform="translate(191.00,331.70) scale(1.001,0.953)"/>
<use href="#mtop" transform="translate(212.60,331.70) scale(1.001,0.953)"/>
<use href="#mtop" transform="translate(233.40,331.70) scale(1.001,0.953)"/>
<use href="#mtop" transform="translate(255.00,331.70) scale(1.001,0.953)"/>
<g clip-path="url(#mc7)">
<g filter="url(#irr)">
<ellipse cx="168.50" cy="362.00" rx="13.00" ry="11.00" fill="#8a10ff"/>
<ellipse cx="160.50" cy="362.00" rx="4.00" ry="8.00" fill="#8a10ff"/>
<ellipse cx="177.00" cy="362.00" rx="3.50" ry="7.00" fill="#8a10ff"/>
<ellipse cx="191.00" cy="356.00" rx="12.50" ry="9.50" fill="#8a10ff"/>
<ellipse cx="185.80" cy="355.50" rx="3.00" ry="3.00" fill="#8a10ff"/>
<ellipse cx="196.00" cy="355.50" rx="3.50" ry="3.00" fill="#8a10ff"/>
<ellipse cx="212.60" cy="362.00" rx="12.00" ry="12.00" fill="#8a10ff"/>
<ellipse cx="220.00" cy="365.00" rx="4.00" ry="8.00" fill="#8a10ff"/>
<ellipse cx="206.00" cy="358.00" rx="3.00" ry="5.00" fill="#8a10ff"/>
<ellipse cx="213.40" cy="333.30" rx="2.00" ry="3.00" fill="#8a10ff"/>
<ellipse cx="233.40" cy="355.80" rx="12.50" ry="9.00" fill="#8a10ff"/>
<ellipse cx="255.00" cy="354.10" rx="12.50" ry="8.00" fill="#8a10ff"/>
<ellipse cx="168.50" cy="362.00" rx="9.75" ry="8.25" fill="#2a28ff"/>
<ellipse cx="160.50" cy="362.00" rx="3.40" ry="6.80" fill="#2a28ff"/>
<ellipse cx="177.00" cy="362.00" rx="2.98" ry="5.95" fill="#2a28ff"/>
<ellipse cx="191.00" cy="356.00" rx="11.00" ry="8.36" fill="#2a28ff"/>
<ellipse cx="185.80" cy="355.50" rx="2.70" ry="2.70" fill="#2a28ff"/>
<ellipse cx="196.00" cy="355.50" rx="3.15" ry="2.70" fill="#2a28ff"/>
<ellipse cx="212.60" cy="362.00" rx="9.60" ry="9.60" fill="#2a28ff"/>
<ellipse cx="220.00" cy="365.00" rx="3.40" ry="6.80" fill="#2a28ff"/>
<ellipse cx="206.00" cy="358.00" rx="2.40" ry="4.00" fill="#2a28ff"/>
<ellipse cx="213.40" cy="333.30" rx="1.60" ry="2.40" fill="#2a28ff"/>
<ellipse cx="233.40" cy="355.80" rx="11.00" ry="7.92" fill="#2a28ff"/>
<ellipse cx="255.00" cy="354.10" rx="11.00" ry="7.04" fill="#2a28ff"/>
<ellipse cx="160.50" cy="362.00" rx="2.80" ry="5.60" fill="#00d8ff"/>
<ellipse cx="177.00" cy="362.00" rx="2.27" ry="4.55" fill="#00d8ff"/>
<ellipse cx="191.00" cy="356.00" rx="9.38" ry="7.12" fill="#00d8ff"/>
<ellipse cx="185.80" cy="355.50" rx="2.40" ry="2.40" fill="#00d8ff"/>
<ellipse cx="196.00" cy="355.50" rx="2.80" ry="2.40" fill="#00d8ff"/>
<ellipse cx="220.00" cy="365.00" rx="2.80" ry="5.60" fill="#00d8ff"/>
<ellipse cx="206.00" cy="358.00" rx="1.50" ry="2.50" fill="#00d8ff"/>
<ellipse cx="233.40" cy="355.80" rx="9.38" ry="6.75" fill="#00d8ff"/>
<ellipse cx="255.00" cy="354.10" rx="9.50" ry="6.08" fill="#00d8ff"/>
<ellipse cx="160.50" cy="362.00" rx="2.20" ry="4.40" fill="#28f040"/>
<ellipse cx="177.00" cy="362.00" rx="1.57" ry="3.15" fill="#28f040"/>
<ellipse cx="191.00" cy="356.00" rx="7.50" ry="5.70" fill="#28f040"/>
<ellipse cx="185.80" cy="355.50" rx="2.10" ry="2.10" fill="#28f040"/>
<ellipse cx="196.00" cy="355.50" rx="2.45" ry="2.10" fill="#28f040"/>
<ellipse cx="220.00" cy="365.00" rx="2.20" ry="4.40" fill="#28f040"/>
<ellipse cx="233.40" cy="355.80" rx="7.25" ry="5.22" fill="#28f040"/>
<ellipse cx="255.00" cy="354.10" rx="7.50" ry="4.80" fill="#28f040"/>
<ellipse cx="160.50" cy="362.00" rx="1.60" ry="3.20" fill="#f8f000"/>
<ellipse cx="191.00" cy="356.00" rx="4.75" ry="3.61" fill="#f8f000"/>
<ellipse cx="185.80" cy="355.50" rx="1.80" ry="1.80" fill="#f8f000"/>
<ellipse cx="196.00" cy="355.50" rx="2.10" ry="1.80" fill="#f8f000"/>
<ellipse cx="220.00" cy="365.00" rx="1.60" ry="3.20" fill="#f8f000"/>
<ellipse cx="233.40" cy="355.80" rx="4.50" ry="3.24" fill="#f8f000"/>
<ellipse cx="255.00" cy="354.10" rx="5.50" ry="3.52" fill="#f8f000"/>
<ellipse cx="160.50" cy="362.00" rx="1.12" ry="2.24" fill="#ff2010"/>
<ellipse cx="185.80" cy="355.50" rx="1.50" ry="1.50" fill="#ff2010"/>
<ellipse cx="196.00" cy="355.50" rx="1.75" ry="1.50" fill="#ff2010"/>
<ellipse cx="220.00" cy="365.00" rx="1.00" ry="2.00" fill="#ff2010"/>
<ellipse cx="233.40" cy="355.80" rx="2.50" ry="1.80" fill="#ff2010"/>
<ellipse cx="255.00" cy="354.10" rx="3.75" ry="2.40" fill="#ff2010"/>
</g>
</g>
</svg>
<rect x="280.20" y="328.20" width="106.80" height="59.80" fill="url(#stripes)"/>
<rect x="280.20" y="328.20" width="106.80" height="2" fill="#0a0a0a"/>
<svg x="280.20" y="328.20" width="106.80" height="59.80" viewBox="280.20 328.20 106.80 59.80" overflow="hidden">
<use href="#mtop" transform="translate(290.50,331.70) scale(1.068,0.953)"/>
<use href="#mtop" transform="translate(312.50,331.70) scale(1.068,0.953)"/>
<use href="#mtop" transform="translate(334.50,331.70) scale(1.068,0.953)"/>
<use href="#mtop" transform="translate(356.50,331.70) scale(1.068,0.953)"/>
<use href="#mtop" transform="translate(377.00,331.70) scale(1.068,0.953)"/>
<g clip-path="url(#mc8)">
<g filter="url(#irr)">
<ellipse cx="330.00" cy="371.50" rx="2.50" ry="3.00" fill="#8a10ff"/>
<ellipse cx="328.00" cy="378.00" rx="2.00" ry="2.00" fill="#8a10ff"/>
<ellipse cx="355.70" cy="359.50" rx="3.00" ry="2.50" fill="#8a10ff"/>
<ellipse cx="354.00" cy="383.50" rx="2.00" ry="2.00" fill="#8a10ff"/>
<ellipse cx="368.00" cy="369.00" rx="2.00" ry="1.50" fill="#8a10ff"/>
<ellipse cx="330.00" cy="371.50" rx="2.00" ry="2.40" fill="#2a28ff"/>
<ellipse cx="328.00" cy="378.00" rx="1.60" ry="1.60" fill="#2a28ff"/>
<ellipse cx="355.70" cy="359.50" rx="2.40" ry="2.00" fill="#2a28ff"/>
<ellipse cx="354.00" cy="383.50" rx="1.60" ry="1.60" fill="#2a28ff"/>
</g>
</g>
</svg>
<rect x="35.40" y="404.90" width="109.10" height="60.40" fill="#fff" stroke="#cfcfcf" stroke-width="0.8"/>
<path d="M45.00,427.80 L56.40,442.40 M56.40,427.80 L45.00,442.40" fill="none" stroke="#f42a1a" stroke-width="1.8"/>
<path d="M63.35,427.80 L74.75,442.40 M74.75,427.80 L63.35,442.40" fill="none" stroke="#f42a1a" stroke-width="1.8"/>
<path d="M81.70,427.80 L93.10,442.40 M93.10,427.80 L81.70,442.40" fill="none" stroke="#f42a1a" stroke-width="1.8"/>
<path d="M100.05,427.80 L111.45,442.40 M111.45,427.80 L100.05,442.40" fill="none" stroke="#f42a1a" stroke-width="1.8"/>
<path d="M118.40,427.80 L129.80,442.40 M129.80,427.80 L118.40,442.40" fill="none" stroke="#f42a1a" stroke-width="1.8"/>
<rect x="158.70" y="404.90" width="108.60" height="60.40" fill="#fff" stroke="#cfcfcf" stroke-width="0.8"/>
<path d="M171.40,427.80 L182.80,442.40 M182.80,427.80 L171.40,442.40" fill="none" stroke="#f42a1a" stroke-width="1.8"/>
<path d="M189.75,427.80 L201.15,442.40 M201.15,427.80 L189.75,442.40" fill="none" stroke="#f42a1a" stroke-width="1.8"/>
<path d="M208.10,427.80 L219.50,442.40 M219.50,427.80 L208.10,442.40" fill="none" stroke="#f42a1a" stroke-width="1.8"/>
<path d="M226.45,427.80 L237.85,442.40 M237.85,427.80 L226.45,442.40" fill="none" stroke="#f42a1a" stroke-width="1.8"/>
<path d="M244.80,427.80 L256.20,442.40 M256.20,427.80 L244.80,442.40" fill="none" stroke="#f42a1a" stroke-width="1.8"/>
<line x1="158.90" y1="405.20" x2="158.90" y2="465.00" stroke="#666" stroke-width="1.0"/>
<rect x="280.20" y="404.90" width="106.80" height="59.70" fill="url(#stripes)"/>
<rect x="280.20" y="404.90" width="106.80" height="2" fill="#0a0a0a"/>
<svg x="280.20" y="404.90" width="106.80" height="59.70" viewBox="280.20 404.90 106.80 59.70" overflow="hidden">
<use href="#mtop" transform="translate(289.70,408.40) scale(1.066,0.952)"/>
<use href="#mtop" transform="translate(311.60,408.40) scale(1.066,0.952)"/>
<use href="#mtop" transform="translate(333.50,408.40) scale(1.066,0.952)"/>
<use href="#mtop" transform="translate(356.50,408.40) scale(1.066,0.952)"/>
<use href="#mtop" transform="translate(376.20,408.40) scale(1.066,0.952)"/>
<g clip-path="url(#mc9)">
<g filter="url(#irr)">
<ellipse cx="298.00" cy="445.40" rx="3.50" ry="7.00" fill="#8a10ff"/>
<ellipse cx="311.60" cy="430.00" rx="12.00" ry="4.50" fill="#8a10ff"/>
<ellipse cx="307.50" cy="430.00" rx="2.00" ry="2.00" fill="#8a10ff"/>
<ellipse cx="315.50" cy="430.00" rx="2.00" ry="2.00" fill="#8a10ff"/>
<ellipse cx="333.50" cy="430.00" rx="12.00" ry="4.50" fill="#8a10ff"/>
<ellipse cx="356.50" cy="431.00" rx="12.50" ry="8.00" fill="#8a10ff"/>
<ellipse cx="356.50" cy="440.00" rx="9.00" ry="6.00" fill="#8a10ff"/>
<ellipse cx="349.00" cy="441.00" rx="3.00" ry="4.00" fill="#8a10ff"/>
<ellipse cx="364.00" cy="440.00" rx="3.00" ry="4.00" fill="#8a10ff"/>
<ellipse cx="376.20" cy="429.00" rx="12.50" ry="6.00" fill="#8a10ff"/>
<ellipse cx="370.00" cy="436.00" rx="2.00" ry="2.00" fill="#8a10ff"/>
<ellipse cx="382.00" cy="440.00" rx="1.50" ry="2.00" fill="#8a10ff"/>
<ellipse cx="298.00" cy="445.40" rx="2.80" ry="5.60" fill="#2a28ff"/>
<ellipse cx="311.60" cy="430.00" rx="10.20" ry="3.82" fill="#2a28ff"/>
<ellipse cx="307.50" cy="430.00" rx="1.80" ry="1.80" fill="#2a28ff"/>
<ellipse cx="315.50" cy="430.00" rx="1.80" ry="1.80" fill="#2a28ff"/>
<ellipse cx="333.50" cy="430.00" rx="10.20" ry="3.82" fill="#2a28ff"/>
<ellipse cx="356.50" cy="431.00" rx="10.62" ry="6.80" fill="#2a28ff"/>
<ellipse cx="376.20" cy="429.00" rx="11.00" ry="5.28" fill="#2a28ff"/>
<ellipse cx="298.00" cy="445.40" rx="1.75" ry="3.50" fill="#00d8ff"/>
<ellipse cx="311.60" cy="430.00" rx="8.40" ry="3.15" fill="#00d8ff"/>
<ellipse cx="307.50" cy="430.00" rx="1.60" ry="1.60" fill="#00d8ff"/>
<ellipse cx="315.50" cy="430.00" rx="1.60" ry="1.60" fill="#00d8ff"/>
<ellipse cx="333.50" cy="430.00" rx="7.20" ry="2.70" fill="#00d8ff"/>
<ellipse cx="356.50" cy="431.00" rx="8.75" ry="5.60" fill="#00d8ff"/>
<ellipse cx="376.20" cy="429.00" rx="9.00" ry="4.32" fill="#00d8ff"/>
<ellipse cx="298.00" cy="445.40" rx="1.33" ry="2.66" fill="#28f040"/>
<ellipse cx="311.60" cy="430.00" rx="6.00" ry="2.25" fill="#28f040"/>
<ellipse cx="307.50" cy="430.00" rx="1.40" ry="1.40" fill="#28f040"/>
<ellipse cx="315.50" cy="430.00" rx="1.40" ry="1.40" fill="#28f040"/>
<ellipse cx="333.50" cy="430.00" rx="4.20" ry="1.57" fill="#28f040"/>
<ellipse cx="356.50" cy="431.00" rx="6.88" ry="4.40" fill="#28f040"/>
<ellipse cx="376.20" cy="429.00" rx="6.88" ry="3.30" fill="#28f040"/>
<ellipse cx="298.00" cy="445.40" rx="0.95" ry="1.89" fill="#f8f000"/>
<ellipse cx="307.50" cy="430.00" rx="1.20" ry="1.20" fill="#f8f000"/>
<ellipse cx="315.50" cy="430.00" rx="1.20" ry="1.20" fill="#f8f000"/>
<ellipse cx="356.50" cy="431.00" rx="4.38" ry="2.80" fill="#f8f000"/>
<ellipse cx="376.20" cy="429.00" rx="4.75" ry="2.28" fill="#f8f000"/>
<ellipse cx="307.50" cy="430.00" rx="1.00" ry="1.00" fill="#ff2010"/>
<ellipse cx="315.50" cy="430.00" rx="1.00" ry="1.00" fill="#ff2010"/>
<ellipse cx="356.50" cy="431.00" rx="2.50" ry="1.60" fill="#ff2010"/>
<ellipse cx="376.20" cy="429.00" rx="2.75" ry="1.32" fill="#ff2010"/>
</g>
</g>
</svg>
<text x="421.00" y="14.00" font-size="21.5">c</text>
<path d="M533.90,115.70 L570.70,55.60 L570.70,156.20 L533.90,156.20 Z" fill="#f3eabd"/>
<path d="M533.90,111.80 L570.70,98.00 L570.70,156.20 L533.90,156.20 Z" fill="#efc497"/>
<path d="M570.70,98.00 L607.50,70.50 L607.50,156.20 L570.70,156.20 Z" fill="#f1b8bb"/>
<path d="M533.90,115.00 L570.70,133.00 L570.70,156.20 L533.90,156.20 Z" fill="#d4b889"/>
<path d="M570.70,133.00 L607.50,138.20 L607.50,156.20 L570.70,156.20 Z" fill="#bd9fa1"/>
<path d="M607.50,138.20 L644.30,109.40 L644.30,156.20 L607.50,156.20 Z" fill="#8ad4c7"/>
<path d="M533.9,115.7 L570.7,55.6" fill="none" stroke="#e8c868" stroke-width="1.0"/>
<path d="M533.9,111.8 L570.7,98.0 L607.5,70.5" fill="none" stroke="#f07a6a" stroke-width="1.0"/>
<path d="M533.9,115.0 L570.7,133.0" fill="none" stroke="#8a9c82" stroke-width="1.0"/>
<path d="M570.7,133.0 L607.5,138.2" fill="none" stroke="#7a8e98" stroke-width="1.0"/>
<path d="M607.5,138.2 L644.3,109.4" fill="none" stroke="#3fae9a" stroke-width="1.0"/>
<line x1="570.70" y1="49.90" x2="570.70" y2="65.40" stroke="#444" stroke-width="0.8"/>
<line x1="569.10" y1="49.90" x2="572.30" y2="49.90" stroke="#444" stroke-width="0.8"/>
<line x1="569.10" y1="65.40" x2="572.30" y2="65.40" stroke="#444" stroke-width="0.8"/>
<line x1="533.90" y1="106.40" x2="533.90" y2="117.50" stroke="#e06060" stroke-width="0.8"/>
<line x1="532.30" y1="106.40" x2="535.50" y2="106.40" stroke="#e06060" stroke-width="0.8"/>
<line x1="532.30" y1="117.50" x2="535.50" y2="117.50" stroke="#e06060" stroke-width="0.8"/>
<line x1="570.70" y1="94.80" x2="570.70" y2="101.40" stroke="#d06050" stroke-width="0.8"/>
<line x1="569.10" y1="94.80" x2="572.30" y2="94.80" stroke="#d06050" stroke-width="0.8"/>
<line x1="569.10" y1="101.40" x2="572.30" y2="101.40" stroke="#d06050" stroke-width="0.8"/>
<line x1="607.50" y1="65.40" x2="607.50" y2="78.90" stroke="#d06050" stroke-width="0.8"/>
<line x1="605.90" y1="65.40" x2="609.10" y2="65.40" stroke="#d06050" stroke-width="0.8"/>
<line x1="605.90" y1="78.90" x2="609.10" y2="78.90" stroke="#d06050" stroke-width="0.8"/>
<line x1="570.70" y1="128.90" x2="570.70" y2="137.30" stroke="#444" stroke-width="0.8"/>
<line x1="569.10" y1="128.90" x2="572.30" y2="128.90" stroke="#444" stroke-width="0.8"/>
<line x1="569.10" y1="137.30" x2="572.30" y2="137.30" stroke="#444" stroke-width="0.8"/>
<line x1="607.50" y1="133.40" x2="607.50" y2="143.90" stroke="#444" stroke-width="0.8"/>
<line x1="605.90" y1="133.40" x2="609.10" y2="133.40" stroke="#444" stroke-width="0.8"/>
<line x1="605.90" y1="143.90" x2="609.10" y2="143.90" stroke="#444" stroke-width="0.8"/>
<line x1="644.30" y1="103.80" x2="644.30" y2="116.30" stroke="#444" stroke-width="0.8"/>
<line x1="642.70" y1="103.80" x2="645.90" y2="103.80" stroke="#444" stroke-width="0.8"/>
<line x1="642.70" y1="116.30" x2="645.90" y2="116.30" stroke="#444" stroke-width="0.8"/>
<rect x="531.50" y="109.40" width="4.80" height="4.80" fill="#f06c6c"/>
<rect x="568.30" y="95.60" width="4.80" height="4.80" fill="#f29090"/>
<rect x="605.10" y="68.10" width="4.80" height="4.80" fill="#f06c6c"/>
<circle cx="533.90" cy="115.70" r="2.50" fill="#ecc860"/>
<circle cx="570.70" cy="55.60" r="2.50" fill="#ecc860"/>
<path d="M570.70,130.40 L573.17,134.82 L568.23,134.82 Z" fill="#5a8c90"/>
<path d="M607.50,135.60 L609.97,140.02 L605.03,140.02 Z" fill="#5a8c90"/>
<path d="M644.30,106.50 L647.05,111.43 L641.54,111.43 Z" fill="#3fb09c"/>
<line x1="496.60" y1="19.60" x2="496.60" y2="156.20" stroke="#444" stroke-width="0.9"/>
<line x1="496.60" y1="156.20" x2="644.80" y2="156.20" stroke="#444" stroke-width="0.9"/>
<line x1="493.40" y1="20.10" x2="496.60" y2="20.10" stroke="#444" stroke-width="0.9"/>
<text x="486.60" y="26.50" font-size="12.9" text-anchor="end">10</text>
<text x="486.80" y="21.70" font-size="8.8">7</text>
<line x1="493.40" y1="54.20" x2="496.60" y2="54.20" stroke="#444" stroke-width="0.9"/>
<text x="486.60" y="60.60" font-size="12.9" text-anchor="end">10</text>
<text x="486.80" y="55.80" font-size="8.8">6</text>
<line x1="493.40" y1="88.20" x2="496.60" y2="88.20" stroke="#444" stroke-width="0.9"/>
<text x="486.60" y="94.60" font-size="12.9" text-anchor="end">10</text>
<text x="486.80" y="89.80" font-size="8.8">5</text>
<line x1="493.40" y1="122.30" x2="496.60" y2="122.30" stroke="#444" stroke-width="0.9"/>
<text x="486.60" y="128.70" font-size="12.9" text-anchor="end">10</text>
<text x="486.80" y="123.90" font-size="8.8">4</text>
<line x1="493.40" y1="156.20" x2="496.60" y2="156.20" stroke="#444" stroke-width="0.9"/>
<text x="486.60" y="162.60" font-size="12.9" text-anchor="end">10</text>
<text x="486.80" y="157.80" font-size="8.8">3</text>
<line x1="497.00" y1="156.20" x2="497.00" y2="159.20" stroke="#444" stroke-width="0.9"/>
<text x="497.00" y="173.60" font-size="12.8" text-anchor="middle">0</text>
<line x1="533.90" y1="156.20" x2="533.90" y2="159.20" stroke="#444" stroke-width="0.9"/>
<text x="533.90" y="173.60" font-size="12.8" text-anchor="middle">7</text>
<line x1="570.70" y1="156.20" x2="570.70" y2="159.20" stroke="#444" stroke-width="0.9"/>
<text x="570.70" y="173.60" font-size="12.8" text-anchor="middle">14</text>
<line x1="607.50" y1="156.20" x2="607.50" y2="159.20" stroke="#444" stroke-width="0.9"/>
<text x="607.50" y="173.60" font-size="12.8" text-anchor="middle">21</text>
<line x1="644.30" y1="156.20" x2="644.30" y2="159.20" stroke="#444" stroke-width="0.9"/>
<text x="644.30" y="173.60" font-size="12.8" text-anchor="middle">28</text>
<text x="570.50" y="192.20" font-size="13.1" text-anchor="middle">Time in Days</text>
<text x="462.6" y="93.4" font-size="13.4" text-anchor="middle" transform="rotate(-90 462.6 93.4)">Radiance (p/sec/cm<tspan font-size="9" dy="-5">2</tspan><tspan dy="5">/sr)</tspan></text>
<line x1="510.20" y1="8.80" x2="520.80" y2="8.80" stroke="#ecd080" stroke-width="1.0"/>
<circle cx="515.50" cy="8.80" r="2.60" fill="#ecc860"/>
<text x="526.40" y="13.70" font-size="13.1">Raji</text>
<line x1="510.20" y1="22.80" x2="520.80" y2="22.80" stroke="#f08080" stroke-width="1.0"/>
<rect x="513.00" y="20.30" width="5.00" height="5.00" fill="#f07070"/>
<text x="526.40" y="28.00" font-size="13.1">Raji+m19</text>
<line x1="510.20" y1="37.60" x2="520.80" y2="37.60" stroke="#4fb4a2" stroke-width="1.0"/>
<path d="M515.50,34.80 L518.16,39.56 L512.84,39.56 Z" fill="#3fb09c"/>
<text x="526.40" y="42.20" font-size="13.1">Raji+b20/19</text>
<text x="644.30" y="108.80" font-size="13.5" text-anchor="middle" transform="rotate(90 644.30 108.80)" style="stroke-width:0.6px">****</text>
<text x="431.20" y="226.20" font-size="20.5">d</text>
<path d="M489.9,294.8 L573.1,287.2 L656.0,314.1 L656.0,366.0 L573.1,351.8 L489.9,331.6 Z" fill="#cfeee8"/>
<path d="M489.9,331.6 L573.1,351.8 L656.0,366.0 L656,380.4 L489.9,380.4 Z" fill="#d9cbcb"/>
<path d="M489.9,294.8 L573.1,287.2 L656.0,314.1" fill="none" stroke="#5cc0b0" stroke-width="1.1"/>
<path d="M489.9,331.6 L573.1,351.8 L656.0,366.0" fill="none" stroke="#f09494" stroke-width="1.1"/>
<line x1="573.10" y1="268.00" x2="573.10" y2="305.30" stroke="#666" stroke-width="0.8"/>
<line x1="571.40" y1="268.00" x2="574.80" y2="268.00" stroke="#666" stroke-width="0.8"/>
<line x1="571.40" y1="305.30" x2="574.80" y2="305.30" stroke="#666" stroke-width="0.8"/>
<line x1="656.00" y1="308.20" x2="656.00" y2="319.00" stroke="#666" stroke-width="0.8"/>
<line x1="654.30" y1="308.20" x2="657.70" y2="308.20" stroke="#666" stroke-width="0.8"/>
<line x1="654.30" y1="319.00" x2="657.70" y2="319.00" stroke="#666" stroke-width="0.8"/>
<line x1="573.10" y1="343.00" x2="573.10" y2="360.00" stroke="#777" stroke-width="0.8"/>
<line x1="571.40" y1="343.00" x2="574.80" y2="343.00" stroke="#777" stroke-width="0.8"/>
<line x1="571.40" y1="360.00" x2="574.80" y2="360.00" stroke="#777" stroke-width="0.8"/>
<line x1="656.00" y1="362.00" x2="656.00" y2="369.60" stroke="#777" stroke-width="0.8"/>
<line x1="654.30" y1="362.00" x2="657.70" y2="362.00" stroke="#777" stroke-width="0.8"/>
<line x1="654.30" y1="369.60" x2="657.70" y2="369.60" stroke="#777" stroke-width="0.8"/>
<line x1="489.90" y1="284.00" x2="489.90" y2="305.50" stroke="#777" stroke-width="0.8"/>
<line x1="488.20" y1="284.00" x2="491.60" y2="284.00" stroke="#777" stroke-width="0.8"/>
<line x1="488.20" y1="305.50" x2="491.60" y2="305.50" stroke="#777" stroke-width="0.8"/>
<line x1="489.90" y1="326.40" x2="489.90" y2="336.50" stroke="#999" stroke-width="0.8"/>
<line x1="488.20" y1="326.40" x2="491.60" y2="326.40" stroke="#999" stroke-width="0.8"/>
<line x1="488.20" y1="336.50" x2="491.60" y2="336.50" stroke="#999" stroke-width="0.8"/>
<rect x="486.70" y="291.60" width="6.40" height="6.40" fill="#6cc6b6"/>
<rect x="569.90" y="284.00" width="6.40" height="6.40" fill="#6cc6b6"/>
<rect x="652.80" y="310.90" width="6.40" height="6.40" fill="#6cc6b6"/>
<circle cx="489.90" cy="331.60" r="3.30" fill="#f4a4a4"/>
<circle cx="573.10" cy="351.80" r="3.30" fill="#f4a4a4"/>
<circle cx="656.00" cy="366.00" r="3.30" fill="#f4a4a4"/>
<line x1="489.90" y1="242.20" x2="489.90" y2="380.40" stroke="#444" stroke-width="0.9"/>
<line x1="489.90" y1="380.40" x2="656.50" y2="380.40" stroke="#444" stroke-width="0.9"/>
<line x1="486.40" y1="380.40" x2="489.90" y2="380.40" stroke="#444" stroke-width="0.9"/>
<text x="484.60" y="385.40" font-size="14.0" text-anchor="end">0</text>
<line x1="486.40" y1="334.47" x2="489.90" y2="334.47" stroke="#444" stroke-width="0.9"/>
<text x="484.60" y="339.47" font-size="14.0" text-anchor="end">10</text>
<line x1="486.40" y1="288.53" x2="489.90" y2="288.53" stroke="#444" stroke-width="0.9"/>
<text x="484.60" y="293.53" font-size="14.0" text-anchor="end">20</text>
<line x1="486.40" y1="242.60" x2="489.90" y2="242.60" stroke="#444" stroke-width="0.9"/>
<text x="484.60" y="247.60" font-size="14.0" text-anchor="end">30</text>
<line x1="489.90" y1="380.40" x2="489.90" y2="383.90" stroke="#444" stroke-width="0.9"/>
<text x="489.90" y="400.00" font-size="14.0" text-anchor="middle">14</text>
<line x1="573.10" y1="380.40" x2="573.10" y2="383.90" stroke="#444" stroke-width="0.9"/>
<text x="573.10" y="400.00" font-size="14.0" text-anchor="middle">21</text>
<line x1="656.00" y1="380.40" x2="656.00" y2="383.90" stroke="#444" stroke-width="0.9"/>
<text x="656.00" y="400.00" font-size="14.0" text-anchor="middle">28</text>
<text x="573.20" y="421.00" font-size="14.7" text-anchor="middle">Time in Days</text>
<text x="462.60" y="317.30" font-size="14.6" text-anchor="middle" transform="rotate(-90 462.60 317.30)">% CAR T-cells in blood</text>
<line x1="495.20" y1="233.00" x2="507.90" y2="233.00" stroke="#f0a0a0" stroke-width="1.0"/>
<circle cx="501.50" cy="233.00" r="2.80" fill="#f4a4a4"/>
<text x="514.20" y="238.20" font-size="14.8">Raji+m19</text>
<line x1="495.20" y1="256.20" x2="507.90" y2="256.20" stroke="#5cc0b0" stroke-width="1.0"/>
<rect x="498.50" y="253.20" width="6.00" height="6.00" fill="#6cc6b6"/>
<text x="514.20" y="260.60" font-size="14.8">Raji+b20/19</text>
<text x="656.60" y="316.90" font-size="13.5" text-anchor="middle" transform="rotate(90 656.60 316.90)" style="stroke-width:0.6px">****</text>
<text x="7.00" y="515.40" font-size="20">e</text>
<line x1="70.90" y1="508.00" x2="80.90" y2="508.00" stroke="#f03a28" stroke-width="1.6"/>
<text x="84.60" y="512.20" font-size="11.0">Raji</text>
<line x1="70.90" y1="519.20" x2="80.90" y2="519.20" stroke="#4da6f0" stroke-width="1.6"/>
<text x="84.60" y="523.20" font-size="11.0">Raji+m19</text>
<line x1="70.90" y1="531.60" x2="80.90" y2="531.60" stroke="#3a9a8a" stroke-width="1.6"/>
<text x="84.60" y="535.00" font-size="11.0">Raji+b20/19</text>
<line x1="45.60" y1="542.00" x2="45.60" y2="645.10" stroke="#666" stroke-width="1.0"/>
<line x1="45.60" y1="645.10" x2="209.80" y2="645.10" stroke="#666" stroke-width="1.0"/>
<line x1="42.60" y1="645.10" x2="45.60" y2="645.10" stroke="#666" stroke-width="1.0"/>
<text x="41.40" y="649.00" font-size="10.8" text-anchor="end">0</text>
<line x1="42.60" y1="619.40" x2="45.60" y2="619.40" stroke="#666" stroke-width="1.0"/>
<text x="41.40" y="623.30" font-size="10.8" text-anchor="end">25</text>
<line x1="42.60" y1="593.70" x2="45.60" y2="593.70" stroke="#666" stroke-width="1.0"/>
<text x="41.40" y="597.60" font-size="10.8" text-anchor="end">50</text>
<line x1="42.60" y1="568.00" x2="45.60" y2="568.00" stroke="#666" stroke-width="1.0"/>
<text x="41.40" y="571.90" font-size="10.8" text-anchor="end">75</text>
<line x1="42.60" y1="542.30" x2="45.60" y2="542.30" stroke="#666" stroke-width="1.0"/>
<text x="41.40" y="546.20" font-size="10.8" text-anchor="end">100</text>
<line x1="45.80" y1="645.10" x2="45.80" y2="648.10" stroke="#666" stroke-width="1.0"/>
<text x="48.10" y="657.60" font-size="11.3" text-anchor="end" transform="rotate(-45 48.10 657.60)">0</text>
<line x1="62.17" y1="645.10" x2="62.17" y2="648.10" stroke="#666" stroke-width="1.0"/>
<text x="64.47" y="657.60" font-size="11.3" text-anchor="end" transform="rotate(-45 64.47 657.60)">7</text>
<line x1="78.54" y1="645.10" x2="78.54" y2="648.10" stroke="#666" stroke-width="1.0"/>
<text x="80.84" y="657.60" font-size="11.3" text-anchor="end" transform="rotate(-45 80.84 657.60)">14</text>
<line x1="94.91" y1="645.10" x2="94.91" y2="648.10" stroke="#666" stroke-width="1.0"/>
<text x="97.21" y="657.60" font-size="11.3" text-anchor="end" transform="rotate(-45 97.21 657.60)">21</text>
<line x1="111.28" y1="645.10" x2="111.28" y2="648.10" stroke="#666" stroke-width="1.0"/>
<text x="113.58" y="657.60" font-size="11.3" text-anchor="end" transform="rotate(-45 113.58 657.60)">28</text>
<line x1="127.65" y1="645.10" x2="127.65" y2="648.10" stroke="#666" stroke-width="1.0"/>
<text x="129.95" y="657.60" font-size="11.3" text-anchor="end" transform="rotate(-45 129.95 657.60)">35</text>
<line x1="144.02" y1="645.10" x2="144.02" y2="648.10" stroke="#666" stroke-width="1.0"/>
<text x="146.32" y="657.60" font-size="11.3" text-anchor="end" transform="rotate(-45 146.32 657.60)">42</text>
<line x1="160.39" y1="645.10" x2="160.39" y2="648.10" stroke="#666" stroke-width="1.0"/>
<text x="162.69" y="657.60" font-size="11.3" text-anchor="end" transform="rotate(-45 162.69 657.60)">49</text>
<line x1="176.76" y1="645.10" x2="176.76" y2="648.10" stroke="#666" stroke-width="1.0"/>
<text x="179.06" y="657.60" font-size="11.3" text-anchor="end" transform="rotate(-45 179.06 657.60)">56</text>
<line x1="193.13" y1="645.10" x2="193.13" y2="648.10" stroke="#666" stroke-width="1.0"/>
<text x="195.43" y="657.60" font-size="11.3" text-anchor="end" transform="rotate(-45 195.43 657.60)">63</text>
<line x1="209.50" y1="645.10" x2="209.50" y2="648.10" stroke="#666" stroke-width="1.0"/>
<text x="211.80" y="657.60" font-size="11.3" text-anchor="end" transform="rotate(-45 211.80 657.60)">70</text>
<text x="127.50" y="680.20" font-size="11.2" text-anchor="middle">Time in Days</text>
<text x="24.20" y="597.60" font-size="11.0" text-anchor="middle" transform="rotate(-90 24.20 597.60)">Survival %</text>
<path d="M160.39,542.30 V550.01 H176.76 V560.80 H193.13 V577.77 H209.50" fill="none" stroke="#4aa090" stroke-width="1.8"/>
<path d="M111.28,542.30 H160.39" fill="none" stroke="#4aa090" stroke-width="1.8"/>
<path d="M78.54,542.30 H111.28 V549.50 H127.65 V559.26 H144.02 V588.05 H160.39 V645.10" fill="none" stroke="#50a8f2" stroke-width="1.8"/>
<path d="M45.80,542.30 H78.54 V586.50 H94.91 V645.10" fill="none" stroke="#f03a28" stroke-width="1.8"/>
<text x="237.20" y="514.90" font-size="19.5">f</text>
<text x="327.60" y="514.40" font-size="14.8" text-anchor="middle">m19</text>
<text x="456.80" y="513.80" font-size="14.8" text-anchor="middle">b20/19</text>
<line x1="298.80" y1="533.20" x2="298.80" y2="652.20" stroke="#666" stroke-width="1.0"/>
<line x1="298.80" y1="652.20" x2="366.30" y2="652.20" stroke="#666" stroke-width="1.0"/>
<line x1="295.80" y1="652.20" x2="298.80" y2="652.20" stroke="#666" stroke-width="1.0"/>
<text x="292.60" y="656.60" font-size="12.2" text-anchor="end">0</text>
<line x1="295.80" y1="628.46" x2="298.80" y2="628.46" stroke="#666" stroke-width="1.0"/>
<text x="292.60" y="632.86" font-size="12.2" text-anchor="end">500</text>
<line x1="295.80" y1="604.72" x2="298.80" y2="604.72" stroke="#666" stroke-width="1.0"/>
<text x="292.60" y="609.12" font-size="12.2" text-anchor="end">1000</text>
<line x1="295.80" y1="580.98" x2="298.80" y2="580.98" stroke="#666" stroke-width="1.0"/>
<text x="292.60" y="585.38" font-size="12.2" text-anchor="end">1500</text>
<line x1="295.80" y1="557.24" x2="298.80" y2="557.24" stroke="#666" stroke-width="1.0"/>
<text x="292.60" y="561.64" font-size="12.2" text-anchor="end">2000</text>
<line x1="295.80" y1="533.50" x2="298.80" y2="533.50" stroke="#666" stroke-width="1.0"/>
<text x="292.60" y="537.90" font-size="12.2" text-anchor="end">2500</text>
<rect x="303.30" y="652.01" width="10.40" height="0.19" fill="#a4f4f4" stroke="#7a9a9a" stroke-width="0.6"/>
<rect x="303.30" y="652.15" width="10.40" height="0.05" fill="#f2583c" stroke="#b05040" stroke-width="0.4"/>
<text x="311.00" y="667.20" font-size="12.2" text-anchor="end" transform="rotate(-45 311.00 667.20)">Day 7</text>
<line x1="308.50" y1="652.20" x2="308.50" y2="655.20" stroke="#666" stroke-width="1.0"/>
<line x1="324.40" y1="633.20" x2="324.40" y2="635.82" stroke="#666" stroke-width="0.9"/>
<line x1="321.80" y1="633.20" x2="327.00" y2="633.20" stroke="#666" stroke-width="0.9"/>
<rect x="319.20" y="635.82" width="10.40" height="16.38" fill="#a4f4f4" stroke="#7a9a9a" stroke-width="0.6"/>
<text x="326.90" y="667.20" font-size="12.2" text-anchor="end" transform="rotate(-45 326.90 667.20)">Day 14</text>
<line x1="324.40" y1="652.20" x2="324.40" y2="655.20" stroke="#666" stroke-width="1.0"/>
<line x1="340.20" y1="615.20" x2="340.20" y2="617.97" stroke="#666" stroke-width="0.9"/>
<line x1="337.60" y1="615.20" x2="342.80" y2="615.20" stroke="#666" stroke-width="0.9"/>
<rect x="335.00" y="617.97" width="10.40" height="34.23" fill="#a4f4f4" stroke="#7a9a9a" stroke-width="0.6"/>
<text x="342.70" y="667.20" font-size="12.2" text-anchor="end" transform="rotate(-45 342.70 667.20)">Day 21</text>
<line x1="340.20" y1="652.20" x2="340.20" y2="655.20" stroke="#666" stroke-width="1.0"/>
<line x1="356.00" y1="554.40" x2="356.00" y2="562.46" stroke="#666" stroke-width="0.9"/>
<line x1="353.40" y1="554.40" x2="358.60" y2="554.40" stroke="#666" stroke-width="0.9"/>
<rect x="350.80" y="562.46" width="10.40" height="89.74" fill="#a4f4f4" stroke="#7a9a9a" stroke-width="0.6"/>
<rect x="350.80" y="651.25" width="10.40" height="0.95" fill="#f2583c" stroke="#b05040" stroke-width="0.4"/>
<text x="358.50" y="667.20" font-size="12.2" text-anchor="end" transform="rotate(-45 358.50 667.20)">Day 28</text>
<line x1="356.00" y1="652.20" x2="356.00" y2="655.20" stroke="#666" stroke-width="1.0"/>
<rect x="301.60" y="531.60" width="10.10" height="10.50" fill="#f2583c" stroke="#b05040" stroke-width="0.5"/>
<rect x="301.60" y="544.30" width="10.10" height="11.00" fill="#a4f4f4" stroke="#7a9a9a" stroke-width="0.5"/>
<text x="316.80" y="540.40" font-size="12.2">CD19</text>
<text x="316.80" y="553.40" font-size="12.2">CD20</text>
<text x="262.0" y="597.0" font-size="12.1" text-anchor="middle" transform="rotate(-90 262.0 597.0)">Raji cells <tspan color="#1c2c58" style="fill:#1c2c58;stroke:#1c2c58">(µl of blood)</tspan></text>
<line x1="434.40" y1="536.80" x2="434.40" y2="651.40" stroke="#666" stroke-width="1.0"/>
<line x1="434.40" y1="651.40" x2="503.40" y2="651.40" stroke="#666" stroke-width="1.0"/>
<line x1="431.40" y1="651.40" x2="434.40" y2="651.40" stroke="#666" stroke-width="1.0"/>
<text x="429.40" y="655.80" font-size="12.2" text-anchor="end">0</text>
<line x1="431.40" y1="613.30" x2="434.40" y2="613.30" stroke="#666" stroke-width="1.0"/>
<text x="429.40" y="617.70" font-size="12.2" text-anchor="end">5</text>
<line x1="431.40" y1="575.20" x2="434.40" y2="575.20" stroke="#666" stroke-width="1.0"/>
<text x="429.40" y="579.60" font-size="12.2" text-anchor="end">10</text>
<line x1="431.40" y1="537.10" x2="434.40" y2="537.10" stroke="#666" stroke-width="1.0"/>
<text x="429.40" y="541.50" font-size="12.2" text-anchor="end">15</text>
<line x1="445.10" y1="559.50" x2="445.10" y2="566.06" stroke="#666" stroke-width="0.9"/>
<line x1="442.50" y1="559.50" x2="447.70" y2="559.50" stroke="#666" stroke-width="0.9"/>
<rect x="439.90" y="566.06" width="10.40" height="85.34" fill="#a4f4f4" stroke="#7a9a9a" stroke-width="0.6"/>
<rect x="439.90" y="598.06" width="10.40" height="53.34" fill="#f2583c" stroke="#b05040" stroke-width="0.4"/>
<line x1="445.10" y1="585.60" x2="445.10" y2="598.06" stroke="#777" stroke-width="0.9"/>
<line x1="442.50" y1="585.60" x2="447.70" y2="585.60" stroke="#777" stroke-width="0.9"/>
<text x="447.60" y="666.40" font-size="12.2" text-anchor="end" transform="rotate(-45 447.60 666.40)">Day 7</text>
<line x1="445.10" y1="651.40" x2="445.10" y2="654.40" stroke="#666" stroke-width="1.0"/>
<line x1="461.00" y1="611.60" x2="461.00" y2="618.25" stroke="#666" stroke-width="0.9"/>
<line x1="458.40" y1="611.60" x2="463.60" y2="611.60" stroke="#666" stroke-width="0.9"/>
<rect x="455.80" y="618.25" width="10.40" height="33.15" fill="#a4f4f4" stroke="#7a9a9a" stroke-width="0.6"/>
<rect x="455.80" y="642.87" width="10.40" height="8.53" fill="#f2583c" stroke="#b05040" stroke-width="0.4"/>
<line x1="461.00" y1="640.50" x2="461.00" y2="642.87" stroke="#777" stroke-width="0.9"/>
<line x1="458.40" y1="640.50" x2="463.60" y2="640.50" stroke="#777" stroke-width="0.9"/>
<text x="463.50" y="666.40" font-size="12.2" text-anchor="end" transform="rotate(-45 463.50 666.40)">Day 14</text>
<line x1="461.00" y1="651.40" x2="461.00" y2="654.40" stroke="#666" stroke-width="1.0"/>
<line x1="477.00" y1="610.00" x2="477.00" y2="616.35" stroke="#666" stroke-width="0.9"/>
<line x1="474.40" y1="610.00" x2="479.60" y2="610.00" stroke="#666" stroke-width="0.9"/>
<rect x="471.80" y="616.35" width="10.40" height="35.05" fill="#a4f4f4" stroke="#7a9a9a" stroke-width="0.6"/>
<rect x="471.80" y="640.96" width="10.40" height="10.44" fill="#f2583c" stroke="#b05040" stroke-width="0.4"/>
<line x1="477.00" y1="638.60" x2="477.00" y2="640.96" stroke="#777" stroke-width="0.9"/>
<line x1="474.40" y1="638.60" x2="479.60" y2="638.60" stroke="#777" stroke-width="0.9"/>
<text x="479.50" y="666.40" font-size="12.2" text-anchor="end" transform="rotate(-45 479.50 666.40)">Day 21</text>
<line x1="477.00" y1="651.40" x2="477.00" y2="654.40" stroke="#666" stroke-width="1.0"/>
<line x1="492.90" y1="579.00" x2="492.90" y2="588.92" stroke="#666" stroke-width="0.9"/>
<line x1="490.30" y1="579.00" x2="495.50" y2="579.00" stroke="#666" stroke-width="0.9"/>
<rect x="487.70" y="588.92" width="10.40" height="62.48" fill="#a4f4f4" stroke="#7a9a9a" stroke-width="0.6"/>
<rect x="487.70" y="640.96" width="10.40" height="10.44" fill="#f2583c" stroke="#b05040" stroke-width="0.4"/>
<line x1="492.90" y1="638.60" x2="492.90" y2="640.96" stroke="#777" stroke-width="0.9"/>
<line x1="490.30" y1="638.60" x2="495.50" y2="638.60" stroke="#777" stroke-width="0.9"/>
<text x="495.40" y="666.40" font-size="12.2" text-anchor="end" transform="rotate(-45 495.40 666.40)">Day 28</text>
<line x1="492.90" y1="651.40" x2="492.90" y2="654.40" stroke="#666" stroke-width="1.0"/>
<rect x="440.10" y="532.00" width="10.50" height="10.50" fill="#f2583c" stroke="#b05040" stroke-width="0.5"/>
<rect x="440.10" y="544.50" width="10.50" height="11.50" fill="#a4f4f4" stroke="#7a9a9a" stroke-width="0.5"/>
<text x="455.90" y="541.40" font-size="12.2">CD19</text>
<text x="455.90" y="554.50" font-size="12.2">CD20</text>
<text x="412.5" y="596.5" font-size="12.1" text-anchor="middle" transform="rotate(-90 412.5 596.5)">Raji cells <tspan color="#1c2c58" style="fill:#1c2c58;stroke:#1c2c58">(µl of blood)</tspan></text>
<text x="526.30" y="503.60" font-size="19.5">g</text>
<rect x="582.30" y="625.05" width="10.20" height="25.35" fill="#f07878" stroke="#b04a4a" stroke-width="0.6"/>
<rect x="595.60" y="561.81" width="10.40" height="88.59" fill="#f0d27a" stroke="#a89040" stroke-width="0.6"/>
<rect x="609.30" y="644.13" width="10.40" height="6.27" fill="#f07878" stroke="#b04a4a" stroke-width="0.6"/>
<rect x="623.00" y="596.97" width="10.00" height="53.43" fill="#f0d27a" stroke="#a89040" stroke-width="0.6"/>
<rect x="657.60" y="625.87" width="10.10" height="24.53" fill="#f0d27a" stroke="#a89040" stroke-width="0.6"/>
<line x1="600.80" y1="552.81" x2="600.80" y2="569.98" stroke="#333" stroke-width="0.8"/>
<line x1="598.40" y1="552.81" x2="603.20" y2="552.81" stroke="#333" stroke-width="0.8"/>
<line x1="598.40" y1="569.98" x2="603.20" y2="569.98" stroke="#333" stroke-width="0.8"/>
<line x1="628.00" y1="589.88" x2="628.00" y2="604.06" stroke="#333" stroke-width="0.8"/>
<line x1="625.60" y1="589.88" x2="630.40" y2="589.88" stroke="#333" stroke-width="0.8"/>
<line x1="625.60" y1="604.06" x2="630.40" y2="604.06" stroke="#333" stroke-width="0.8"/>
<line x1="587.40" y1="623.14" x2="587.40" y2="626.96" stroke="#333" stroke-width="0.8"/>
<line x1="585.40" y1="623.14" x2="589.40" y2="623.14" stroke="#333" stroke-width="0.8"/>
<line x1="585.40" y1="626.96" x2="589.40" y2="626.96" stroke="#333" stroke-width="0.8"/>
<line x1="576.60" y1="513.80" x2="576.60" y2="650.40" stroke="#666" stroke-width="1.0"/>
<line x1="576.60" y1="650.40" x2="674.00" y2="650.40" stroke="#666" stroke-width="1.0"/>
<line x1="573.60" y1="650.40" x2="576.60" y2="650.40" stroke="#666" stroke-width="1.0"/>
<text x="570.80" y="655.30" font-size="13.8" text-anchor="end">0</text>
<line x1="573.60" y1="623.14" x2="576.60" y2="623.14" stroke="#666" stroke-width="1.0"/>
<text x="570.80" y="628.04" font-size="13.8" text-anchor="end">1</text>
<line x1="573.60" y1="595.88" x2="576.60" y2="595.88" stroke="#666" stroke-width="1.0"/>
<text x="570.80" y="600.78" font-size="13.8" text-anchor="end">2</text>
<line x1="573.60" y1="568.62" x2="576.60" y2="568.62" stroke="#666" stroke-width="1.0"/>
<text x="570.80" y="573.52" font-size="13.8" text-anchor="end">3</text>
<line x1="573.60" y1="541.36" x2="576.60" y2="541.36" stroke="#666" stroke-width="1.0"/>
<text x="570.80" y="546.26" font-size="13.8" text-anchor="end">4</text>
<line x1="573.60" y1="514.10" x2="576.60" y2="514.10" stroke="#666" stroke-width="1.0"/>
<text x="570.80" y="519.00" font-size="13.8" text-anchor="end">5</text>
<line x1="587.40" y1="650.40" x2="587.40" y2="653.40" stroke="#666" stroke-width="1.0"/>
<line x1="600.80" y1="650.40" x2="600.80" y2="653.40" stroke="#666" stroke-width="1.0"/>
<line x1="614.50" y1="650.40" x2="614.50" y2="653.40" stroke="#666" stroke-width="1.0"/>
<line x1="628.00" y1="650.40" x2="628.00" y2="653.40" stroke="#666" stroke-width="1.0"/>
<line x1="641.20" y1="650.40" x2="641.20" y2="653.40" stroke="#666" stroke-width="1.0"/>
<line x1="662.60" y1="650.40" x2="662.60" y2="653.40" stroke="#666" stroke-width="1.0"/>
<text x="602.40" y="661.00" font-size="13.0" text-anchor="end" transform="rotate(-45 602.40 661.00)">Day-14</text>
<text x="629.00" y="661.00" font-size="13.0" text-anchor="end" transform="rotate(-45 629.00 661.00)">Day-21</text>
<text x="664.80" y="661.00" font-size="13.0" text-anchor="end" transform="rotate(-45 664.80 661.00)">Day-28</text>
<text x="558.6" y="583.0" font-size="13.6" text-anchor="middle" transform="rotate(-90 558.6 583.0)">MFI of Granzyme B (x10<tspan font-size="9" dy="-5">3</tspan><tspan dy="5">)</tspan></text>
<circle cx="585.00" cy="617.10" r="2.50" fill="#000"/>
<circle cx="590.70" cy="619.90" r="2.50" fill="#000"/>
<circle cx="585.00" cy="623.50" r="2.50" fill="#000"/>
<circle cx="587.60" cy="629.00" r="2.50" fill="#000"/>
<circle cx="587.60" cy="634.80" r="2.50" fill="#000"/>
<circle cx="601.00" cy="533.40" r="2.50" fill="#000"/>
<circle cx="595.40" cy="562.00" r="2.50" fill="#000"/>
<circle cx="601.00" cy="562.00" r="2.50" fill="#000"/>
<circle cx="606.40" cy="562.00" r="2.50" fill="#000"/>
<circle cx="601.00" cy="587.50" r="2.50" fill="#000"/>
<circle cx="612.00" cy="641.80" r="2.50" fill="#000"/>
<circle cx="617.60" cy="638.80" r="2.50" fill="#000"/>
<circle cx="614.80" cy="644.30" r="2.50" fill="#000"/>
<circle cx="611.20" cy="647.40" r="2.50" fill="#000"/>
<circle cx="616.80" cy="647.40" r="2.50" fill="#000"/>
<circle cx="627.90" cy="575.00" r="2.50" fill="#000"/>
<circle cx="624.80" cy="589.70" r="2.50" fill="#000"/>
<circle cx="631.20" cy="587.70" r="2.50" fill="#000"/>
<circle cx="624.80" cy="617.80" r="2.50" fill="#000"/>
<circle cx="631.20" cy="614.20" r="2.50" fill="#000"/>
<circle cx="659.80" cy="619.90" r="2.50" fill="#000"/>
<circle cx="663.10" cy="619.30" r="2.50" fill="#000"/>
<circle cx="665.80" cy="623.90" r="2.50" fill="#000"/>
<circle cx="661.30" cy="630.30" r="2.50" fill="#000"/>
<circle cx="664.40" cy="628.40" r="2.50" fill="#000"/>
<circle cx="660.50" cy="625.50" r="2.50" fill="#000"/>
<path d="M587.4,612.5 V521.3 H601.0 V528.5" fill="none" stroke="#444" stroke-width="0.8"/>
<text x="594.20" y="524.40" font-size="12" text-anchor="middle">****</text>
<path d="M614.2,636.5 V565.4 H627.9 V571.0" fill="none" stroke="#444" stroke-width="0.8"/>
<text x="621.00" y="568.40" font-size="12" text-anchor="middle">****</text>
<path d="M627.9,567.6 H662.4 V614.5" fill="none" stroke="#444" stroke-width="0.8"/>
<text x="645.00" y="570.60" font-size="12" text-anchor="middle">**</text>
<text x="0.20" y="735.00" font-size="20">h</text>
<rect x="82.10" y="711.00" width="15.30" height="15.30" fill="#f07878" stroke="#9a8abf" stroke-width="0.7"/>
<rect x="82.10" y="731.70" width="15.30" height="15.40" fill="#f0d27a" stroke="#9a9abf" stroke-width="0.7"/>
<text x="100.60" y="724.20" font-size="14.6">m19</text>
<text x="100.60" y="746.00" font-size="14.6">b20/19</text>
<rect x="58.00" y="858.30" width="9.20" height="22.00" fill="#f07878" stroke="#b04a4a" stroke-width="0.6"/>
<rect x="70.50" y="790.67" width="8.30" height="89.63" fill="#f0d27a" stroke="#a89040" stroke-width="0.6"/>
<rect x="83.90" y="871.61" width="8.70" height="8.69" fill="#f07878" stroke="#b04a4a" stroke-width="0.6"/>
<rect x="95.90" y="829.24" width="8.50" height="51.06" fill="#f0d27a" stroke="#a89040" stroke-width="0.6"/>
<rect x="127.70" y="852.33" width="8.70" height="27.97" fill="#f0d27a" stroke="#a89040" stroke-width="0.6"/>
<line x1="62.60" y1="853.41" x2="62.60" y2="862.92" stroke="#333" stroke-width="0.8"/>
<line x1="60.40" y1="853.41" x2="64.80" y2="853.41" stroke="#333" stroke-width="0.8"/>
<line x1="60.40" y1="862.92" x2="64.80" y2="862.92" stroke="#333" stroke-width="0.8"/>
<line x1="74.60" y1="783.88" x2="74.60" y2="797.46" stroke="#333" stroke-width="0.8"/>
<line x1="72.40" y1="783.88" x2="76.80" y2="783.88" stroke="#333" stroke-width="0.8"/>
<line x1="72.40" y1="797.46" x2="76.80" y2="797.46" stroke="#333" stroke-width="0.8"/>
<line x1="88.20" y1="869.44" x2="88.20" y2="873.51" stroke="#333" stroke-width="0.8"/>
<line x1="86.20" y1="869.44" x2="90.20" y2="869.44" stroke="#333" stroke-width="0.8"/>
<line x1="86.20" y1="873.51" x2="90.20" y2="873.51" stroke="#333" stroke-width="0.8"/>
<line x1="100.20" y1="825.17" x2="100.20" y2="833.58" stroke="#333" stroke-width="0.8"/>
<line x1="98.00" y1="825.17" x2="102.40" y2="825.17" stroke="#333" stroke-width="0.8"/>
<line x1="98.00" y1="833.58" x2="102.40" y2="833.58" stroke="#333" stroke-width="0.8"/>
<line x1="132.00" y1="849.07" x2="132.00" y2="855.31" stroke="#333" stroke-width="0.8"/>
<line x1="130.00" y1="849.07" x2="134.00" y2="849.07" stroke="#333" stroke-width="0.8"/>
<line x1="130.00" y1="855.31" x2="134.00" y2="855.31" stroke="#333" stroke-width="0.8"/>
<line x1="52.60" y1="744.20" x2="52.60" y2="880.30" stroke="#666" stroke-width="1.0"/>
<line x1="52.60" y1="880.30" x2="141.20" y2="880.30" stroke="#666" stroke-width="1.0"/>
<line x1="49.60" y1="880.30" x2="52.60" y2="880.30" stroke="#666" stroke-width="1.0"/>
<text x="47.40" y="884.84" font-size="12.6" text-anchor="end">0</text>
<line x1="49.60" y1="853.14" x2="52.60" y2="853.14" stroke="#666" stroke-width="1.0"/>
<text x="47.40" y="857.68" font-size="12.6" text-anchor="end">1000</text>
<line x1="49.60" y1="825.98" x2="52.60" y2="825.98" stroke="#666" stroke-width="1.0"/>
<text x="47.40" y="830.52" font-size="12.6" text-anchor="end">2000</text>
<line x1="49.60" y1="798.82" x2="52.60" y2="798.82" stroke="#666" stroke-width="1.0"/>
<text x="47.40" y="803.36" font-size="12.6" text-anchor="end">3000</text>
<line x1="49.60" y1="771.66" x2="52.60" y2="771.66" stroke="#666" stroke-width="1.0"/>
<text x="47.40" y="776.20" font-size="12.6" text-anchor="end">4000</text>
<line x1="49.60" y1="744.50" x2="52.60" y2="744.50" stroke="#666" stroke-width="1.0"/>
<text x="47.40" y="749.04" font-size="12.6" text-anchor="end">5000</text>
<line x1="63.00" y1="880.30" x2="63.00" y2="883.30" stroke="#666" stroke-width="1.0"/>
<line x1="74.40" y1="880.30" x2="74.40" y2="883.30" stroke="#666" stroke-width="1.0"/>
<line x1="88.30" y1="880.30" x2="88.30" y2="883.30" stroke="#666" stroke-width="1.0"/>
<line x1="99.90" y1="880.30" x2="99.90" y2="883.30" stroke="#666" stroke-width="1.0"/>
<line x1="113.40" y1="880.30" x2="113.40" y2="883.30" stroke="#666" stroke-width="1.0"/>
<line x1="131.80" y1="880.30" x2="131.80" y2="883.30" stroke="#666" stroke-width="1.0"/>
<circle cx="63.00" cy="840.20" r="2.70" fill="#000"/>
<circle cx="65.60" cy="859.70" r="2.70" fill="#000"/>
<circle cx="60.60" cy="864.40" r="2.70" fill="#000"/>
<circle cx="65.60" cy="864.40" r="2.70" fill="#000"/>
<circle cx="62.50" cy="862.00" r="2.70" fill="#000"/>
<circle cx="72.40" cy="773.30" r="2.70" fill="#000"/>
<circle cx="76.60" cy="776.00" r="2.70" fill="#000"/>
<circle cx="74.40" cy="792.40" r="2.70" fill="#000"/>
<circle cx="74.40" cy="801.80" r="2.70" fill="#000"/>
<circle cx="74.40" cy="810.40" r="2.70" fill="#000"/>
<circle cx="88.30" cy="862.00" r="2.70" fill="#000"/>
<circle cx="86.00" cy="872.20" r="2.70" fill="#000"/>
<circle cx="90.40" cy="871.50" r="2.70" fill="#000"/>
<circle cx="87.60" cy="873.80" r="2.70" fill="#000"/>
<circle cx="89.90" cy="870.70" r="2.70" fill="#000"/>
<circle cx="97.40" cy="819.80" r="2.70" fill="#000"/>
<circle cx="102.10" cy="820.10" r="2.70" fill="#000"/>
<circle cx="99.80" cy="826.10" r="2.70" fill="#000"/>
<circle cx="97.70" cy="841.00" r="2.70" fill="#000"/>
<circle cx="102.10" cy="837.80" r="2.70" fill="#000"/>
<circle cx="130.10" cy="847.20" r="2.70" fill="#000"/>
<circle cx="134.50" cy="844.10" r="2.70" fill="#000"/>
<circle cx="129.80" cy="852.70" r="2.70" fill="#000"/>
<circle cx="134.50" cy="855.80" r="2.70" fill="#000"/>
<circle cx="129.80" cy="859.70" r="2.70" fill="#000"/>
<path d="M63.00,835.50 V762.70 H76.60 V769.00" fill="none" stroke="#444" stroke-width="0.8"/>
<text x="69.80" y="764.50" font-size="12" text-anchor="middle">****</text>
<path d="M87.20,857.00 V802.30 H101.60 V812.80" fill="none" stroke="#444" stroke-width="0.8"/>
<text x="94.20" y="804.10" font-size="12" text-anchor="middle">****</text>
<path d="M101.60,800.70 V800.70 H131.70 V841.00" fill="none" stroke="#444" stroke-width="0.8"/>
<text x="118.90" y="802.70" font-size="12" text-anchor="middle">**</text>
<text x="75.80" y="896.50" font-size="13.2" text-anchor="end" transform="rotate(-45 75.80 896.50)">Day-14</text>
<text x="102.00" y="896.50" font-size="13.2" text-anchor="end" transform="rotate(-45 102.00 896.50)">Day-21</text>
<text x="133.80" y="896.50" font-size="13.2" text-anchor="end" transform="rotate(-45 133.80 896.50)">Day-28</text>
<text x="12.8" y="816.7" font-size="13.0" text-anchor="middle" transform="rotate(-90 12.8 816.7)">IFN-γ (pg/mL)</text>
<text x="155.20" y="733.40" font-size="19">i</text>
<rect x="195.30" y="803.47" width="9.40" height="73.93" fill="#f07878" stroke="#b04a4a" stroke-width="0.6"/>
<rect x="207.40" y="840.16" width="9.10" height="37.24" fill="#f0d27a" stroke="#a89040" stroke-width="0.6"/>
<rect x="221.50" y="782.67" width="8.90" height="94.73" fill="#f07878" stroke="#b04a4a" stroke-width="0.6"/>
<rect x="233.30" y="822.64" width="8.90" height="54.76" fill="#f0d27a" stroke="#a89040" stroke-width="0.6"/>
<rect x="263.90" y="778.56" width="8.90" height="98.84" fill="#f0d27a" stroke="#a89040" stroke-width="0.6"/>
<line x1="200.00" y1="791.70" x2="200.00" y2="815.25" stroke="#333" stroke-width="0.8"/>
<line x1="197.80" y1="791.70" x2="202.20" y2="791.70" stroke="#333" stroke-width="0.8"/>
<line x1="197.80" y1="815.25" x2="202.20" y2="815.25" stroke="#333" stroke-width="0.8"/>
<line x1="212.00" y1="833.32" x2="212.00" y2="847.01" stroke="#333" stroke-width="0.8"/>
<line x1="209.80" y1="833.32" x2="214.20" y2="833.32" stroke="#333" stroke-width="0.8"/>
<line x1="209.80" y1="847.01" x2="214.20" y2="847.01" stroke="#333" stroke-width="0.8"/>
<line x1="226.00" y1="768.43" x2="226.00" y2="796.90" stroke="#333" stroke-width="0.8"/>
<line x1="223.80" y1="768.43" x2="228.20" y2="768.43" stroke="#333" stroke-width="0.8"/>
<line x1="223.80" y1="796.90" x2="228.20" y2="796.90" stroke="#333" stroke-width="0.8"/>
<line x1="237.80" y1="819.35" x2="237.80" y2="825.93" stroke="#333" stroke-width="0.8"/>
<line x1="235.60" y1="819.35" x2="240.00" y2="819.35" stroke="#333" stroke-width="0.8"/>
<line x1="235.60" y1="825.93" x2="240.00" y2="825.93" stroke="#333" stroke-width="0.8"/>
<line x1="268.30" y1="760.49" x2="268.30" y2="796.63" stroke="#333" stroke-width="0.8"/>
<line x1="266.10" y1="760.49" x2="270.50" y2="760.49" stroke="#333" stroke-width="0.8"/>
<line x1="266.10" y1="796.63" x2="270.50" y2="796.63" stroke="#333" stroke-width="0.8"/>
<line x1="190.90" y1="740.20" x2="190.90" y2="877.40" stroke="#666" stroke-width="1.0"/>
<line x1="190.90" y1="877.40" x2="278.00" y2="877.40" stroke="#666" stroke-width="1.0"/>
<line x1="187.90" y1="877.40" x2="190.90" y2="877.40" stroke="#666" stroke-width="1.0"/>
<text x="185.60" y="882.37" font-size="13.8" text-anchor="end">0</text>
<line x1="187.90" y1="850.02" x2="190.90" y2="850.02" stroke="#666" stroke-width="1.0"/>
<text x="185.60" y="854.99" font-size="13.8" text-anchor="end">1</text>
<line x1="187.90" y1="822.64" x2="190.90" y2="822.64" stroke="#666" stroke-width="1.0"/>
<text x="185.60" y="827.61" font-size="13.8" text-anchor="end">2</text>
<line x1="187.90" y1="795.26" x2="190.90" y2="795.26" stroke="#666" stroke-width="1.0"/>
<text x="185.60" y="800.23" font-size="13.8" text-anchor="end">3</text>
<line x1="187.90" y1="767.88" x2="190.90" y2="767.88" stroke="#666" stroke-width="1.0"/>
<text x="185.60" y="772.85" font-size="13.8" text-anchor="end">4</text>
<line x1="187.90" y1="740.50" x2="190.90" y2="740.50" stroke="#666" stroke-width="1.0"/>
<text x="185.60" y="745.47" font-size="13.8" text-anchor="end">5</text>
<line x1="200.00" y1="877.40" x2="200.00" y2="880.40" stroke="#666" stroke-width="1.0"/>
<line x1="212.00" y1="877.40" x2="212.00" y2="880.40" stroke="#666" stroke-width="1.0"/>
<line x1="226.00" y1="877.40" x2="226.00" y2="880.40" stroke="#666" stroke-width="1.0"/>
<line x1="237.80" y1="877.40" x2="237.80" y2="880.40" stroke="#666" stroke-width="1.0"/>
<line x1="249.50" y1="877.40" x2="249.50" y2="880.40" stroke="#666" stroke-width="1.0"/>
<line x1="268.30" y1="877.40" x2="268.30" y2="880.40" stroke="#666" stroke-width="1.0"/>
<circle cx="199.70" cy="789.00" r="2.50" fill="#000"/>
<circle cx="202.40" cy="795.90" r="2.50" fill="#000"/>
<circle cx="197.40" cy="798.70" r="2.50" fill="#000"/>
<circle cx="197.40" cy="816.70" r="2.50" fill="#000"/>
<circle cx="202.10" cy="816.70" r="2.50" fill="#000"/>
<circle cx="211.50" cy="829.20" r="2.50" fill="#000"/>
<circle cx="209.10" cy="841.70" r="2.50" fill="#000"/>
<circle cx="214.30" cy="838.30" r="2.50" fill="#000"/>
<circle cx="209.40" cy="846.40" r="2.50" fill="#000"/>
<circle cx="213.80" cy="843.60" r="2.50" fill="#000"/>
<circle cx="225.60" cy="759.20" r="2.50" fill="#000"/>
<circle cx="223.70" cy="784.60" r="2.50" fill="#000"/>
<circle cx="228.40" cy="783.80" r="2.50" fill="#000"/>
<circle cx="228.40" cy="789.00" r="2.50" fill="#000"/>
<circle cx="225.60" cy="795.60" r="2.50" fill="#000"/>
<circle cx="237.80" cy="816.70" r="2.50" fill="#000"/>
<circle cx="235.70" cy="819.30" r="2.50" fill="#000"/>
<circle cx="239.60" cy="819.30" r="2.50" fill="#000"/>
<circle cx="237.80" cy="826.10" r="2.50" fill="#000"/>
<circle cx="237.80" cy="831.50" r="2.50" fill="#000"/>
<circle cx="268.30" cy="756.70" r="2.50" fill="#000"/>
<circle cx="268.30" cy="767.90" r="2.50" fill="#000"/>
<circle cx="268.30" cy="774.10" r="2.50" fill="#000"/>
<circle cx="265.90" cy="795.60" r="2.50" fill="#000"/>
<circle cx="270.90" cy="795.60" r="2.50" fill="#000"/>
<path d="M200.20,785.40 V781.50 H212.60 V817.50" fill="none" stroke="#444" stroke-width="0.8"/>
<text x="206.50" y="783.50" font-size="12" text-anchor="middle">***</text>
<path d="M225.20,755.60 V751.30 H238.40 V812.00" fill="none" stroke="#444" stroke-width="0.8"/>
<text x="231.80" y="753.30" font-size="12" text-anchor="middle">***</text>
<path d="M238.40,753.30 V753.30 H268.30 V755.60" fill="none" stroke="#444" stroke-width="0.8"/>
<text x="252.50" y="755.30" font-size="12" text-anchor="middle">***</text>
<text x="213.80" y="897.50" font-size="13.0" text-anchor="end" transform="rotate(-45 213.80 897.50)">Day-14</text>
<text x="240.00" y="897.50" font-size="13.0" text-anchor="end" transform="rotate(-45 240.00 897.50)">Day-21</text>
<text x="271.60" y="897.50" font-size="13.0" text-anchor="end" transform="rotate(-45 271.60 897.50)">Day-28</text>
<text x="171.6" y="807.4" font-size="13.2" text-anchor="middle" transform="rotate(-90 171.6 807.4)">MFI of PD-1 (x10<tspan font-size="9" dy="-5">3</tspan><tspan dy="5">)</tspan></text>
<text x="283.00" y="733.00" font-size="19">j</text>
<rect x="322.40" y="812.04" width="9.40" height="66.56" fill="#f07878" stroke="#b04a4a" stroke-width="0.6"/>
<rect x="334.70" y="837.71" width="8.90" height="40.89" fill="#f0d27a" stroke="#a89040" stroke-width="0.6"/>
<rect x="348.80" y="781.60" width="8.90" height="97.00" fill="#f07878" stroke="#b04a4a" stroke-width="0.6"/>
<rect x="360.40" y="824.08" width="8.90" height="54.52" fill="#f0d27a" stroke="#a89040" stroke-width="0.6"/>
<rect x="391.20" y="784.78" width="8.90" height="93.82" fill="#f0d27a" stroke="#a89040" stroke-width="0.6"/>
<line x1="327.10" y1="804.54" x2="327.10" y2="819.99" stroke="#333" stroke-width="0.8"/>
<line x1="324.90" y1="804.54" x2="329.30" y2="804.54" stroke="#333" stroke-width="0.8"/>
<line x1="324.90" y1="819.99" x2="329.30" y2="819.99" stroke="#333" stroke-width="0.8"/>
<line x1="338.70" y1="832.26" x2="338.70" y2="843.62" stroke="#333" stroke-width="0.8"/>
<line x1="336.50" y1="832.26" x2="340.90" y2="832.26" stroke="#333" stroke-width="0.8"/>
<line x1="336.50" y1="843.62" x2="340.90" y2="843.62" stroke="#333" stroke-width="0.8"/>
<line x1="353.10" y1="768.20" x2="353.10" y2="795.00" stroke="#333" stroke-width="0.8"/>
<line x1="350.90" y1="768.20" x2="355.30" y2="768.20" stroke="#333" stroke-width="0.8"/>
<line x1="350.90" y1="795.00" x2="355.30" y2="795.00" stroke="#333" stroke-width="0.8"/>
<line x1="364.80" y1="815.90" x2="364.80" y2="832.26" stroke="#333" stroke-width="0.8"/>
<line x1="362.60" y1="815.90" x2="367.00" y2="815.90" stroke="#333" stroke-width="0.8"/>
<line x1="362.60" y1="832.26" x2="367.00" y2="832.26" stroke="#333" stroke-width="0.8"/>
<line x1="395.50" y1="771.15" x2="395.50" y2="801.14" stroke="#333" stroke-width="0.8"/>
<line x1="393.30" y1="771.15" x2="397.70" y2="771.15" stroke="#333" stroke-width="0.8"/>
<line x1="393.30" y1="801.14" x2="397.70" y2="801.14" stroke="#333" stroke-width="0.8"/>
<line x1="317.50" y1="742.00" x2="317.50" y2="878.60" stroke="#666" stroke-width="1.0"/>
<line x1="317.50" y1="878.60" x2="404.60" y2="878.60" stroke="#666" stroke-width="1.0"/>
<line x1="314.50" y1="878.60" x2="317.50" y2="878.60" stroke="#666" stroke-width="1.0"/>
<text x="312.00" y="883.86" font-size="14.6" text-anchor="end">0</text>
<line x1="314.50" y1="833.17" x2="317.50" y2="833.17" stroke="#666" stroke-width="1.0"/>
<text x="312.00" y="838.42" font-size="14.6" text-anchor="end">2</text>
<line x1="314.50" y1="787.73" x2="317.50" y2="787.73" stroke="#666" stroke-width="1.0"/>
<text x="312.00" y="792.99" font-size="14.6" text-anchor="end">4</text>
<line x1="314.50" y1="742.30" x2="317.50" y2="742.30" stroke="#666" stroke-width="1.0"/>
<text x="312.00" y="747.56" font-size="14.6" text-anchor="end">6</text>
<line x1="327.10" y1="878.60" x2="327.10" y2="881.60" stroke="#666" stroke-width="1.0"/>
<line x1="338.40" y1="878.60" x2="338.40" y2="881.60" stroke="#666" stroke-width="1.0"/>
<line x1="353.10" y1="878.60" x2="353.10" y2="881.60" stroke="#666" stroke-width="1.0"/>
<line x1="364.80" y1="878.60" x2="364.80" y2="881.60" stroke="#666" stroke-width="1.0"/>
<line x1="376.20" y1="878.60" x2="376.20" y2="881.60" stroke="#666" stroke-width="1.0"/>
<line x1="395.50" y1="878.60" x2="395.50" y2="881.60" stroke="#666" stroke-width="1.0"/>
<circle cx="327.10" cy="800.90" r="2.50" fill="#000"/>
<circle cx="324.40" cy="810.70" r="2.50" fill="#000"/>
<circle cx="327.10" cy="810.70" r="2.50" fill="#000"/>
<circle cx="329.70" cy="810.70" r="2.50" fill="#000"/>
<circle cx="327.10" cy="825.80" r="2.50" fill="#000"/>
<circle cx="336.10" cy="833.40" r="2.50" fill="#000"/>
<circle cx="339.90" cy="832.60" r="2.50" fill="#000"/>
<circle cx="341.40" cy="835.60" r="2.50" fill="#000"/>
<circle cx="338.90" cy="838.40" r="2.50" fill="#000"/>
<circle cx="338.70" cy="848.50" r="2.50" fill="#000"/>
<circle cx="353.10" cy="764.60" r="2.50" fill="#000"/>
<circle cx="355.50" cy="776.00" r="2.50" fill="#000"/>
<circle cx="350.50" cy="780.50" r="2.50" fill="#000"/>
<circle cx="353.10" cy="788.50" r="2.50" fill="#000"/>
<circle cx="353.10" cy="799.10" r="2.50" fill="#000"/>
<circle cx="364.80" cy="810.70" r="2.50" fill="#000"/>
<circle cx="362.30" cy="823.20" r="2.50" fill="#000"/>
<circle cx="364.80" cy="825.10" r="2.50" fill="#000"/>
<circle cx="367.10" cy="827.80" r="2.50" fill="#000"/>
<circle cx="362.30" cy="832.30" r="2.50" fill="#000"/>
<circle cx="395.50" cy="768.00" r="2.50" fill="#000"/>
<circle cx="395.50" cy="776.00" r="2.50" fill="#000"/>
<circle cx="395.50" cy="781.00" r="2.50" fill="#000"/>
<circle cx="395.50" cy="788.00" r="2.50" fill="#000"/>
<circle cx="395.50" cy="811.20" r="2.50" fill="#000"/>
<path d="M327.10,793.60 V790.30 H339.50 V830.80" fill="none" stroke="#444" stroke-width="0.8"/>
<text x="331.90" y="792.10" font-size="12" text-anchor="middle">***</text>
<path d="M352.50,759.40 V755.10 H365.60 V805.40" fill="none" stroke="#444" stroke-width="0.8"/>
<text x="358.80" y="757.10" font-size="12" text-anchor="middle">***</text>
<path d="M365.60,757.80 V757.80 H396.60 V761.60" fill="none" stroke="#444" stroke-width="0.8"/>
<text x="379.50" y="759.70" font-size="12" text-anchor="middle">**</text>
<text x="340.60" y="898.50" font-size="13.0" text-anchor="end" transform="rotate(-45 340.60 898.50)">Day-14</text>
<text x="366.80" y="898.50" font-size="13.0" text-anchor="end" transform="rotate(-45 366.80 898.50)">Day-21</text>
<text x="398.40" y="898.50" font-size="13.0" text-anchor="end" transform="rotate(-45 398.40 898.50)">Day-28</text>
<text x="299.4" y="808.8" font-size="13.2" text-anchor="middle" transform="rotate(-90 299.4 808.8)">MFI of LAG-3 (x10<tspan font-size="9" dy="-5">3</tspan><tspan dy="5">)</tspan></text>
<text x="418.40" y="730.60" font-size="19.5">k</text>
<text x="503.20" y="719.20" font-size="11.1">% CD8 T cells</text>
<rect x="496.50" y="745.60" width="37.40" height="11.80" fill="#4fa6f4"/>
<rect x="533.90" y="745.60" width="28.65" height="11.80" fill="#f85cb8"/>
<rect x="562.55" y="745.60" width="9.55" height="11.80" fill="#8edccc"/>
<rect x="572.10" y="745.60" width="3.98" height="11.80" fill="#3a48a8"/>
<rect x="496.50" y="745.60" width="79.58" height="11.80" fill="none" stroke="#999" stroke-width="0.5"/>
<line x1="533.90" y1="749.00" x2="533.90" y2="754.00" stroke="#333" stroke-width="0.7"/>
<line x1="532.40" y1="751.50" x2="535.40" y2="751.50" stroke="#333" stroke-width="0.7"/>
<line x1="562.55" y1="749.00" x2="562.55" y2="754.00" stroke="#333" stroke-width="0.7"/>
<line x1="561.05" y1="751.50" x2="564.05" y2="751.50" stroke="#333" stroke-width="0.7"/>
<line x1="572.10" y1="749.00" x2="572.10" y2="754.00" stroke="#333" stroke-width="0.7"/>
<line x1="570.60" y1="751.50" x2="573.60" y2="751.50" stroke="#333" stroke-width="0.7"/>
<line x1="576.58" y1="749.50" x2="578.58" y2="749.50" stroke="#666" stroke-width="0.6"/>
<line x1="576.58" y1="753.50" x2="578.58" y2="753.50" stroke="#666" stroke-width="0.6"/>
<rect x="496.50" y="760.60" width="28.25" height="11.80" fill="#4fa6f4"/>
<rect x="524.75" y="760.60" width="40.99" height="11.80" fill="#f85cb8"/>
<rect x="565.74" y="760.60" width="3.18" height="11.80" fill="#8edccc"/>
<rect x="568.92" y="760.60" width="7.16" height="11.80" fill="#3a48a8"/>
<rect x="496.50" y="760.60" width="79.58" height="11.80" fill="none" stroke="#999" stroke-width="0.5"/>
<line x1="524.75" y1="764.00" x2="524.75" y2="769.00" stroke="#333" stroke-width="0.7"/>
<line x1="523.25" y1="766.50" x2="526.25" y2="766.50" stroke="#333" stroke-width="0.7"/>
<line x1="565.74" y1="764.00" x2="565.74" y2="769.00" stroke="#333" stroke-width="0.7"/>
<line x1="564.24" y1="766.50" x2="567.24" y2="766.50" stroke="#333" stroke-width="0.7"/>
<line x1="568.92" y1="764.00" x2="568.92" y2="769.00" stroke="#333" stroke-width="0.7"/>
<line x1="567.42" y1="766.50" x2="570.42" y2="766.50" stroke="#333" stroke-width="0.7"/>
<line x1="576.58" y1="764.50" x2="578.58" y2="764.50" stroke="#666" stroke-width="0.6"/>
<line x1="576.58" y1="768.50" x2="578.58" y2="768.50" stroke="#666" stroke-width="0.6"/>
<rect x="496.50" y="781.90" width="42.98" height="11.80" fill="#4fa6f4"/>
<rect x="539.48" y="781.90" width="27.06" height="11.80" fill="#f85cb8"/>
<rect x="566.53" y="781.90" width="5.57" height="11.80" fill="#8edccc"/>
<rect x="572.10" y="781.90" width="3.98" height="11.80" fill="#3a48a8"/>
<rect x="496.50" y="781.90" width="79.58" height="11.80" fill="none" stroke="#999" stroke-width="0.5"/>
<line x1="539.48" y1="785.30" x2="539.48" y2="790.30" stroke="#333" stroke-width="0.7"/>
<line x1="537.98" y1="787.80" x2="540.98" y2="787.80" stroke="#333" stroke-width="0.7"/>
<line x1="566.53" y1="785.30" x2="566.53" y2="790.30" stroke="#333" stroke-width="0.7"/>
<line x1="565.03" y1="787.80" x2="568.03" y2="787.80" stroke="#333" stroke-width="0.7"/>
<line x1="572.10" y1="785.30" x2="572.10" y2="790.30" stroke="#333" stroke-width="0.7"/>
<line x1="570.60" y1="787.80" x2="573.60" y2="787.80" stroke="#333" stroke-width="0.7"/>
<line x1="576.58" y1="785.80" x2="578.58" y2="785.80" stroke="#666" stroke-width="0.6"/>
<line x1="576.58" y1="789.80" x2="578.58" y2="789.80" stroke="#666" stroke-width="0.6"/>
<rect x="496.50" y="797.00" width="20.69" height="11.60" fill="#4fa6f4"/>
<rect x="517.19" y="797.00" width="49.34" height="11.60" fill="#f85cb8"/>
<rect x="566.53" y="797.00" width="1.99" height="11.60" fill="#8edccc"/>
<rect x="568.52" y="797.00" width="7.56" height="11.60" fill="#3a48a8"/>
<rect x="496.50" y="797.00" width="79.58" height="11.60" fill="none" stroke="#999" stroke-width="0.5"/>
<line x1="517.19" y1="800.30" x2="517.19" y2="805.30" stroke="#333" stroke-width="0.7"/>
<line x1="515.69" y1="802.80" x2="518.69" y2="802.80" stroke="#333" stroke-width="0.7"/>
<line x1="566.53" y1="800.30" x2="566.53" y2="805.30" stroke="#333" stroke-width="0.7"/>
<line x1="565.03" y1="802.80" x2="568.03" y2="802.80" stroke="#333" stroke-width="0.7"/>
<line x1="568.52" y1="800.30" x2="568.52" y2="805.30" stroke="#333" stroke-width="0.7"/>
<line x1="567.02" y1="802.80" x2="570.02" y2="802.80" stroke="#333" stroke-width="0.7"/>
<line x1="576.58" y1="800.80" x2="578.58" y2="800.80" stroke="#666" stroke-width="0.6"/>
<line x1="576.58" y1="804.80" x2="578.58" y2="804.80" stroke="#666" stroke-width="0.6"/>
<rect x="496.50" y="818.00" width="48.55" height="11.90" fill="#4fa6f4"/>
<rect x="545.05" y="818.00" width="21.49" height="11.90" fill="#f85cb8"/>
<rect x="566.53" y="818.00" width="5.57" height="11.90" fill="#8edccc"/>
<rect x="572.10" y="818.00" width="3.98" height="11.90" fill="#3a48a8"/>
<rect x="496.50" y="818.00" width="79.58" height="11.90" fill="none" stroke="#999" stroke-width="0.5"/>
<line x1="545.05" y1="821.45" x2="545.05" y2="826.45" stroke="#333" stroke-width="0.7"/>
<line x1="543.55" y1="823.95" x2="546.55" y2="823.95" stroke="#333" stroke-width="0.7"/>
<line x1="566.53" y1="821.45" x2="566.53" y2="826.45" stroke="#333" stroke-width="0.7"/>
<line x1="565.03" y1="823.95" x2="568.03" y2="823.95" stroke="#333" stroke-width="0.7"/>
<line x1="572.10" y1="821.45" x2="572.10" y2="826.45" stroke="#333" stroke-width="0.7"/>
<line x1="570.60" y1="823.95" x2="573.60" y2="823.95" stroke="#333" stroke-width="0.7"/>
<line x1="576.58" y1="821.95" x2="578.58" y2="821.95" stroke="#666" stroke-width="0.6"/>
<line x1="576.58" y1="825.95" x2="578.58" y2="825.95" stroke="#666" stroke-width="0.6"/>
<rect x="496.50" y="833.20" width="15.12" height="11.80" fill="#4fa6f4"/>
<rect x="511.62" y="833.20" width="54.91" height="11.80" fill="#f85cb8"/>
<rect x="566.53" y="833.20" width="1.99" height="11.80" fill="#8edccc"/>
<rect x="568.52" y="833.20" width="7.56" height="11.80" fill="#3a48a8"/>
<rect x="496.50" y="833.20" width="79.58" height="11.80" fill="none" stroke="#999" stroke-width="0.5"/>
<line x1="511.62" y1="836.60" x2="511.62" y2="841.60" stroke="#333" stroke-width="0.7"/>
<line x1="510.12" y1="839.10" x2="513.12" y2="839.10" stroke="#333" stroke-width="0.7"/>
<line x1="566.53" y1="836.60" x2="566.53" y2="841.60" stroke="#333" stroke-width="0.7"/>
<line x1="565.03" y1="839.10" x2="568.03" y2="839.10" stroke="#333" stroke-width="0.7"/>
<line x1="568.52" y1="836.60" x2="568.52" y2="841.60" stroke="#333" stroke-width="0.7"/>
<line x1="567.02" y1="839.10" x2="570.02" y2="839.10" stroke="#333" stroke-width="0.7"/>
<line x1="576.58" y1="837.10" x2="578.58" y2="837.10" stroke="#666" stroke-width="0.6"/>
<line x1="576.58" y1="841.10" x2="578.58" y2="841.10" stroke="#666" stroke-width="0.6"/>
<line x1="496.50" y1="742.40" x2="496.50" y2="847.50" stroke="#777" stroke-width="1.0"/>
<line x1="496.50" y1="742.40" x2="592.50" y2="742.40" stroke="#777" stroke-width="1.0"/>
<line x1="496.50" y1="740.40" x2="496.50" y2="742.40" stroke="#777" stroke-width="1.0"/>
<text x="492.70" y="738.20" font-size="10.6" text-anchor="end" transform="rotate(90 492.70 738.20)">0</text>
<line x1="520.38" y1="740.40" x2="520.38" y2="742.40" stroke="#777" stroke-width="1.0"/>
<text x="516.58" y="738.20" font-size="10.6" text-anchor="end" transform="rotate(90 516.58 738.20)">30</text>
<line x1="544.25" y1="740.40" x2="544.25" y2="742.40" stroke="#777" stroke-width="1.0"/>
<text x="540.45" y="738.20" font-size="10.6" text-anchor="end" transform="rotate(90 540.45 738.20)">60</text>
<line x1="568.12" y1="740.40" x2="568.12" y2="742.40" stroke="#777" stroke-width="1.0"/>
<text x="564.33" y="738.20" font-size="10.6" text-anchor="end" transform="rotate(90 564.33 738.20)">90</text>
<line x1="592.00" y1="740.40" x2="592.00" y2="742.40" stroke="#777" stroke-width="1.0"/>
<text x="588.20" y="738.20" font-size="10.6" text-anchor="end" transform="rotate(90 588.20 738.20)">120</text>
<line x1="493.70" y1="751.00" x2="496.50" y2="751.00" stroke="#777" stroke-width="0.8"/>
<line x1="493.70" y1="766.10" x2="496.50" y2="766.10" stroke="#777" stroke-width="0.8"/>
<line x1="493.70" y1="787.20" x2="496.50" y2="787.20" stroke="#777" stroke-width="0.8"/>
<line x1="493.70" y1="802.30" x2="496.50" y2="802.30" stroke="#777" stroke-width="0.8"/>
<line x1="493.70" y1="823.30" x2="496.50" y2="823.30" stroke="#777" stroke-width="0.8"/>
<line x1="493.70" y1="838.40" x2="496.50" y2="838.40" stroke="#777" stroke-width="0.8"/>
<line x1="493.70" y1="776.60" x2="496.50" y2="776.60" stroke="#777" stroke-width="0.8"/>
<line x1="493.70" y1="812.80" x2="496.50" y2="812.80" stroke="#777" stroke-width="0.8"/>
<text x="422.40" y="760.90" font-size="11.0">Day-14</text>
<line x1="461.90" y1="746.40" x2="461.90" y2="770.70" stroke="#888" stroke-width="1.6"/>
<text x="422.40" y="800.30" font-size="11.0">Day-21</text>
<line x1="461.90" y1="783.90" x2="461.90" y2="808.80" stroke="#888" stroke-width="1.6"/>
<text x="422.40" y="834.50" font-size="11.0">Day-28</text>
<line x1="461.90" y1="819.40" x2="461.90" y2="843.70" stroke="#888" stroke-width="1.6"/>
<text x="487.00" y="753.00" font-size="10.6" text-anchor="end" transform="rotate(45 487.00 753.00)">m19</text>
<text x="487.00" y="768.10" font-size="10.6" text-anchor="end" transform="rotate(45 487.00 768.10)">b20/19</text>
<text x="487.00" y="789.20" font-size="10.6" text-anchor="end" transform="rotate(45 487.00 789.20)">m19</text>
<text x="487.00" y="804.30" font-size="10.6" text-anchor="end" transform="rotate(45 487.00 804.30)">b20/19</text>
<text x="487.00" y="825.30" font-size="10.6" text-anchor="end" transform="rotate(45 487.00 825.30)">m19</text>
<text x="487.00" y="840.40" font-size="10.6" text-anchor="end" transform="rotate(45 487.00 840.40)">b20/19</text>
<path d="M578.5,823.5 H582.5 V839.0 H578.5" fill="none" stroke="#555" stroke-width="0.6"/>
<text x="582.00" y="831.20" font-size="10.5" text-anchor="middle" transform="rotate(90 582.00 831.20)">****</text>
<rect x="591.10" y="749.90" width="6.30" height="6.30" fill="#4fa6f4" stroke="#666" stroke-width="0.4"/>
<text x="600.6" y="758.20" font-size="10.8">CD8 T<tspan font-size="8.3" dy="2.8">em</tspan><tspan dy="-2.8"> PD1</tspan><tspan font-size="8.3" dy="-4.2">low</tspan></text>
<rect x="591.10" y="773.90" width="6.30" height="6.30" fill="#f85cb8" stroke="#666" stroke-width="0.4"/>
<text x="600.6" y="782.20" font-size="10.8">CD8 T<tspan font-size="8.3" dy="2.8">em</tspan><tspan dy="-2.8"> PD1</tspan><tspan font-size="8.3" dy="-4.2">high</tspan></text>
<rect x="591.10" y="797.60" width="6.30" height="6.30" fill="#8edccc" stroke="#666" stroke-width="0.4"/>
<text x="600.6" y="805.90" font-size="10.8">CD8 T<tspan font-size="8.3" dy="2.8">cm</tspan><tspan dy="-2.8"> PD1</tspan><tspan font-size="8.3" dy="-4.2">low</tspan></text>
<rect x="591.10" y="821.20" width="6.30" height="6.30" fill="#3a48a8" stroke="#666" stroke-width="0.4"/>
<text x="600.6" y="829.50" font-size="10.8">CD8 T<tspan font-size="8.3" dy="2.8">cm</tspan><tspan dy="-2.8"> PD1</tspan><tspan font-size="8.3" dy="-4.2">high</tspan></text>
<path d="M472.20,888.10 L472.20,862.10 A26,26 0 1 1 454.80,907.42 Z" fill="#4fa6f4" stroke="#777" stroke-width="0.4"/>
<path d="M472.20,888.10 L454.80,907.42 A26,26 0 0 1 455.14,868.48 Z" fill="#f85cb8" stroke="#777" stroke-width="0.4"/>
<path d="M472.20,888.10 L455.14,868.48 A26,26 0 0 1 466.35,862.77 Z" fill="#4a9e8c" stroke="#777" stroke-width="0.4"/>
<path d="M471.83,884.62 L466.87,859.10 A26,26 0 0 1 471.38,858.62 Z" fill="#1a1aa0" stroke="#fff" stroke-width="0.4"/>
<path d="M614.40,887.50 L614.40,861.50 A26,26 0 0 1 638.33,877.34 Z" fill="#4fa6f4" stroke="#777" stroke-width="0.4"/>
<path d="M614.40,887.50 L638.33,877.34 A26,26 0 1 1 596.34,868.80 Z" fill="#f85cb8" stroke="#777" stroke-width="0.4"/>
<path d="M614.40,887.50 L596.34,868.80 A26,26 0 0 1 598.75,866.74 Z" fill="#4a9e8c" stroke="#777" stroke-width="0.4"/>
<path d="M612.65,882.28 L597.74,860.99 A26,26 0 0 1 611.75,856.30 Z" fill="#1a1aa0" stroke="#fff" stroke-width="0.4"/>
<text x="473.60" y="924.20" font-size="12.6" text-anchor="middle">m19</text>
<text x="616.40" y="924.80" font-size="12.6" text-anchor="middle">b20/19</text>
<rect x="503.30" y="868.40" width="5.80" height="5.80" fill="#4fa6f4"/>
<text x="512.3" y="874.20" font-size="7.6">CD8 T<tspan font-size="5.2" dy="1.6">em</tspan><tspan dy="-1.6"> PD1</tspan><tspan font-size="5.2" dy="-3.2">low</tspan></text>
<rect x="503.30" y="878.20" width="5.80" height="5.80" fill="#f860b8"/>
<text x="512.3" y="884.00" font-size="7.6">CD8 T<tspan font-size="5.2" dy="1.6">em</tspan><tspan dy="-1.6"> PD1high</tspan></text>
<rect x="503.30" y="887.60" width="5.80" height="5.80" fill="#4a9e8c"/>
<text x="512.3" y="893.40" font-size="7.6">CD8 T<tspan font-size="5.2" dy="1.6">cm</tspan><tspan dy="-1.6"> PD1</tspan><tspan font-size="5.2" dy="-3.2">low</tspan></text>
<rect x="503.30" y="896.70" width="5.80" height="5.80" fill="#1a1aa0"/>
<text x="512.3" y="902.50" font-size="7.6">CD8 T<tspan font-size="5.2" dy="1.6">cm</tspan><tspan dy="-1.6"> PD1</tspan><tspan font-size="5.2" dy="-3.2">high</tspan></text>
</svg></body></html>
